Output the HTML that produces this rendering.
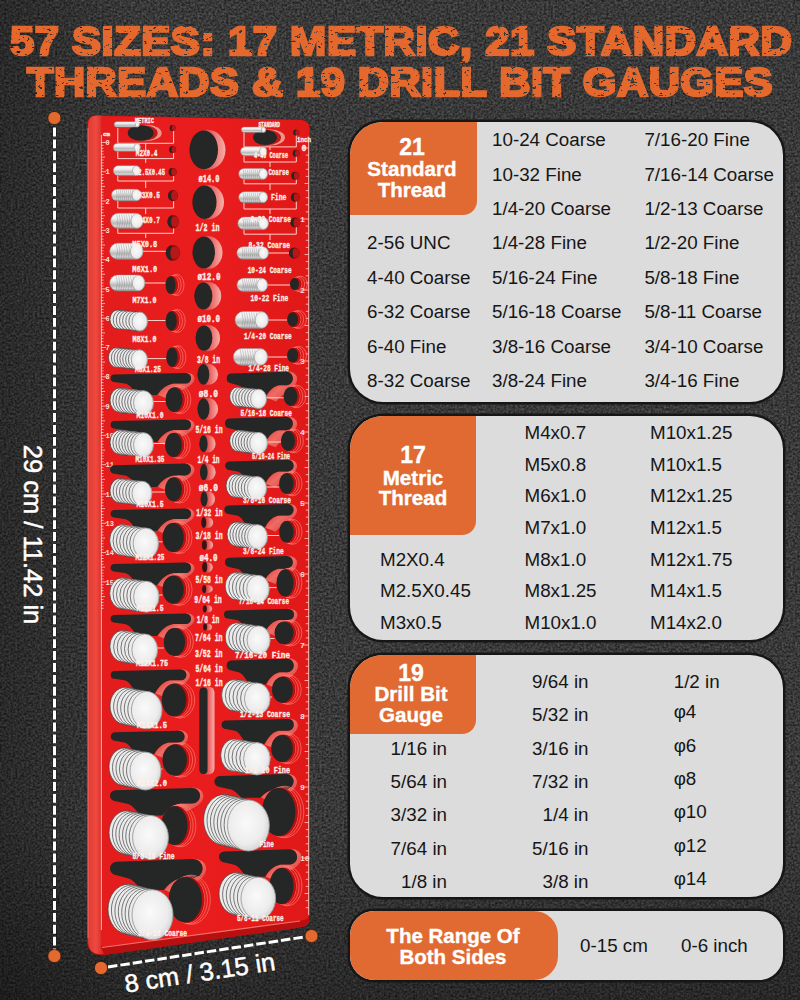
<!DOCTYPE html>
<html><head><meta charset="utf-8"><style>
html,body{margin:0;padding:0;}
body{width:800px;height:1000px;position:relative;overflow:hidden;background:#343434;font-family:"Liberation Sans",sans-serif;}
.abs{position:absolute;}
.title{position:absolute;filter:url(#distress);white-space:nowrap;color:#e5692d;font-weight:bold;font-size:41px;line-height:41px;-webkit-text-stroke:2.6px #e5692d;letter-spacing:0.5px;transform-origin:0 0;}
.panel{position:absolute;left:350px;width:433px;background:#dcdcdc;border-radius:33px;box-shadow:0 0 0 2.5px #161616;overflow:hidden;}
.lab{position:absolute;left:0;top:0;background:#e06a32;}
.t{position:absolute;white-space:nowrap;}
</style></head>
<body>
<svg class="abs" style="left:0;top:0" width="800" height="1000">
  <filter id="noise" x="0" y="0" width="100%" height="100%" color-interpolation-filters="sRGB">
    <feTurbulence type="fractalNoise" baseFrequency="0.45" numOctaves="2" seed="11"/>
    <feColorMatrix type="matrix" values="1.4 0 0 0 -0.2  1.4 0 0 0 -0.2  1.4 0 0 0 -0.2  0 0 0 0 0.24"/>
  </filter>
  <filter id="distress" x="-5%" y="-20%" width="110%" height="140%">
    <feTurbulence type="fractalNoise" baseFrequency="0.2 0.4" numOctaves="3" seed="5" result="n"/>
    <feColorMatrix in="n" type="matrix" values="0 0 0 0 0  0 0 0 0 0  0 0 0 0 0  0 0 0 -22 15.8" result="m"/>
    <feComposite in="SourceGraphic" in2="m" operator="in"/>
  </filter>
  <rect width="800" height="1000" fill="#232323"/>
  <rect width="800" height="1000" filter="url(#noise)"/>
  <linearGradient id="vigL" x1="0" y1="0" x2="1" y2="0">
    <stop offset="0" stop-color="#000" stop-opacity="0.28"/>
    <stop offset="1" stop-color="#000" stop-opacity="0"/>
  </linearGradient>
  <radialGradient id="vigB" cx="800" cy="1000" r="260" gradientUnits="userSpaceOnUse">
    <stop offset="0" stop-color="#000" stop-opacity="0.22"/>
    <stop offset="1" stop-color="#000" stop-opacity="0"/>
  </radialGradient>
  <rect width="140" height="1000" fill="url(#vigL)"/>
  <linearGradient id="vigBot" x1="0" y1="0" x2="0" y2="1">
    <stop offset="0" stop-color="#000" stop-opacity="0"/>
    <stop offset="1" stop-color="#000" stop-opacity="0.3"/>
  </linearGradient>
  <rect y="820" width="800" height="180" fill="url(#vigBot)"/>
</svg>
<div class="title" style="top:21px;left:10px;transform:scaleX(1.061);">57 SIZES: 17 METRIC, 21 STANDARD</div>
<div class="title" style="top:62px;left:27px;transform:scaleX(1.053);">THREADS &amp; 19 DRILL BIT GAUGES</div>
<div class="panel" style="top:122px;height:280px;"><div class="lab" style="width:127px;height:93px;border-radius:30px 0 14px 0;"></div></div>
<div class="panel" style="top:416px;height:224px;"><div class="lab" style="width:126px;height:119px;border-radius:30px 0 14px 0;"></div></div>
<div class="panel" style="top:655px;height:242px;"><div class="lab" style="width:126px;height:79px;border-radius:30px 0 14px 0;"></div></div>
<div class="panel" style="top:911px;height:69px;border-radius:24px;"><div class="lab" style="width:208px;height:69px;border-radius:24px;"></div></div>
<div class="t" style="left:492.0px;top:131.1px;font-size:18.8px;line-height:18.8px;color:#161616;">10-24 Coarse</div>
<div class="t" style="left:644.4px;top:131.1px;font-size:18.8px;line-height:18.8px;color:#161616;">7/16-20 Fine</div>
<div class="t" style="left:492.0px;top:165.5px;font-size:18.8px;line-height:18.8px;color:#161616;">10-32 Fine</div>
<div class="t" style="left:644.4px;top:165.5px;font-size:18.8px;line-height:18.8px;color:#161616;">7/16-14 Coarse</div>
<div class="t" style="left:492.0px;top:200.0px;font-size:18.8px;line-height:18.8px;color:#161616;">1/4-20 Coarse</div>
<div class="t" style="left:644.4px;top:200.0px;font-size:18.8px;line-height:18.8px;color:#161616;">1/2-13 Coarse</div>
<div class="t" style="left:492.0px;top:234.4px;font-size:18.8px;line-height:18.8px;color:#161616;">1/4-28 Fine</div>
<div class="t" style="left:644.4px;top:234.4px;font-size:18.8px;line-height:18.8px;color:#161616;">1/2-20 Fine</div>
<div class="t" style="left:367.0px;top:234.4px;font-size:18.8px;line-height:18.8px;color:#161616;">2-56 UNC</div>
<div class="t" style="left:492.0px;top:268.8px;font-size:18.8px;line-height:18.8px;color:#161616;">5/16-24 Fine</div>
<div class="t" style="left:644.4px;top:268.8px;font-size:18.8px;line-height:18.8px;color:#161616;">5/8-18 Fine</div>
<div class="t" style="left:367.0px;top:268.8px;font-size:18.8px;line-height:18.8px;color:#161616;">4-40 Coarse</div>
<div class="t" style="left:492.0px;top:303.3px;font-size:18.8px;line-height:18.8px;color:#161616;">5/16-18 Coarse</div>
<div class="t" style="left:644.4px;top:303.3px;font-size:18.8px;line-height:18.8px;color:#161616;">5/8-11 Coarse</div>
<div class="t" style="left:367.0px;top:303.3px;font-size:18.8px;line-height:18.8px;color:#161616;">6-32 Coarse</div>
<div class="t" style="left:492.0px;top:337.7px;font-size:18.8px;line-height:18.8px;color:#161616;">3/8-16 Coarse</div>
<div class="t" style="left:644.4px;top:337.7px;font-size:18.8px;line-height:18.8px;color:#161616;">3/4-10 Coarse</div>
<div class="t" style="left:367.0px;top:337.7px;font-size:18.8px;line-height:18.8px;color:#161616;">6-40 Fine</div>
<div class="t" style="left:492.0px;top:372.2px;font-size:18.8px;line-height:18.8px;color:#161616;">3/8-24 Fine</div>
<div class="t" style="left:644.4px;top:372.2px;font-size:18.8px;line-height:18.8px;color:#161616;">3/4-16 Fine</div>
<div class="t" style="left:367.0px;top:372.2px;font-size:18.8px;line-height:18.8px;color:#161616;">8-32 Coarse</div>
<div class="t" style="left:262.0px;width:300px;text-align:center;top:135.5px;font-size:23px;line-height:23px;font-weight:bold;color:#fff;-webkit-text-stroke:0.35px #fff;">21</div>
<div class="t" style="left:262.0px;width:300px;text-align:center;top:158.6px;font-size:20.6px;line-height:20.6px;font-weight:bold;color:#fff;-webkit-text-stroke:0.35px #fff;">Standard</div>
<div class="t" style="left:262.0px;width:300px;text-align:center;top:179.6px;font-size:20.6px;line-height:20.6px;font-weight:bold;color:#fff;-webkit-text-stroke:0.35px #fff;">Thread</div>
<div class="t" style="left:524.5px;top:424.3px;font-size:18.8px;line-height:18.8px;color:#161616;">M4x0.7</div>
<div class="t" style="left:650.0px;top:424.3px;font-size:18.8px;line-height:18.8px;color:#161616;">M10x1.25</div>
<div class="t" style="left:524.5px;top:455.8px;font-size:18.8px;line-height:18.8px;color:#161616;">M5x0.8</div>
<div class="t" style="left:650.0px;top:455.8px;font-size:18.8px;line-height:18.8px;color:#161616;">M10x1.5</div>
<div class="t" style="left:524.5px;top:487.4px;font-size:18.8px;line-height:18.8px;color:#161616;">M6x1.0</div>
<div class="t" style="left:650.0px;top:487.4px;font-size:18.8px;line-height:18.8px;color:#161616;">M12x1.25</div>
<div class="t" style="left:524.5px;top:518.9px;font-size:18.8px;line-height:18.8px;color:#161616;">M7x1.0</div>
<div class="t" style="left:650.0px;top:518.9px;font-size:18.8px;line-height:18.8px;color:#161616;">M12x1.5</div>
<div class="t" style="left:524.5px;top:550.5px;font-size:18.8px;line-height:18.8px;color:#161616;">M8x1.0</div>
<div class="t" style="left:650.0px;top:550.5px;font-size:18.8px;line-height:18.8px;color:#161616;">M12x1.75</div>
<div class="t" style="left:380.0px;top:550.5px;font-size:18.8px;line-height:18.8px;color:#161616;">M2X0.4</div>
<div class="t" style="left:524.5px;top:582.0px;font-size:18.8px;line-height:18.8px;color:#161616;">M8x1.25</div>
<div class="t" style="left:650.0px;top:582.0px;font-size:18.8px;line-height:18.8px;color:#161616;">M14x1.5</div>
<div class="t" style="left:380.0px;top:582.0px;font-size:18.8px;line-height:18.8px;color:#161616;">M2.5X0.45</div>
<div class="t" style="left:524.5px;top:613.6px;font-size:18.8px;line-height:18.8px;color:#161616;">M10x1.0</div>
<div class="t" style="left:650.0px;top:613.6px;font-size:18.8px;line-height:18.8px;color:#161616;">M14x2.0</div>
<div class="t" style="left:380.0px;top:613.6px;font-size:18.8px;line-height:18.8px;color:#161616;">M3x0.5</div>
<div class="t" style="left:263.0px;width:300px;text-align:center;top:444.2px;font-size:23px;line-height:23px;font-weight:bold;color:#fff;-webkit-text-stroke:0.35px #fff;">17</div>
<div class="t" style="left:263.0px;width:300px;text-align:center;top:468.2px;font-size:20.6px;line-height:20.6px;font-weight:bold;color:#fff;-webkit-text-stroke:0.35px #fff;">Metric</div>
<div class="t" style="left:263.0px;width:300px;text-align:center;top:488.4px;font-size:20.6px;line-height:20.6px;font-weight:bold;color:#fff;-webkit-text-stroke:0.35px #fff;">Thread</div>
<div class="t" style="right:211.5px;top:672.8px;font-size:18.8px;line-height:18.8px;color:#161616;">9/64 in</div>
<div class="t" style="left:673.7px;top:672.8px;font-size:18.8px;line-height:18.8px;color:#161616;">1/2 in</div>
<div class="t" style="right:211.5px;top:706.2px;font-size:18.8px;line-height:18.8px;color:#161616;">5/32 in</div>
<div class="t" style="left:673.7px;top:703.2px;font-size:18.8px;line-height:18.8px;color:#161616;">&#966;4</div>
<div class="t" style="right:211.5px;top:739.6px;font-size:18.8px;line-height:18.8px;color:#161616;">3/16 in</div>
<div class="t" style="left:673.7px;top:736.6px;font-size:18.8px;line-height:18.8px;color:#161616;">&#966;6</div>
<div class="t" style="right:353.0px;top:739.6px;font-size:18.8px;line-height:18.8px;color:#161616;">1/16 in</div>
<div class="t" style="right:211.5px;top:773.0px;font-size:18.8px;line-height:18.8px;color:#161616;">7/32 in</div>
<div class="t" style="left:673.7px;top:770.0px;font-size:18.8px;line-height:18.8px;color:#161616;">&#966;8</div>
<div class="t" style="right:353.0px;top:773.0px;font-size:18.8px;line-height:18.8px;color:#161616;">5/64 in</div>
<div class="t" style="right:211.5px;top:806.4px;font-size:18.8px;line-height:18.8px;color:#161616;">1/4 in</div>
<div class="t" style="left:673.7px;top:803.4px;font-size:18.8px;line-height:18.8px;color:#161616;">&#966;10</div>
<div class="t" style="right:353.0px;top:806.4px;font-size:18.8px;line-height:18.8px;color:#161616;">3/32 in</div>
<div class="t" style="right:211.5px;top:839.8px;font-size:18.8px;line-height:18.8px;color:#161616;">5/16 in</div>
<div class="t" style="left:673.7px;top:836.8px;font-size:18.8px;line-height:18.8px;color:#161616;">&#966;12</div>
<div class="t" style="right:353.0px;top:839.8px;font-size:18.8px;line-height:18.8px;color:#161616;">7/64 in</div>
<div class="t" style="right:211.5px;top:873.2px;font-size:18.8px;line-height:18.8px;color:#161616;">3/8 in</div>
<div class="t" style="left:673.7px;top:870.2px;font-size:18.8px;line-height:18.8px;color:#161616;">&#966;14</div>
<div class="t" style="right:353.0px;top:873.2px;font-size:18.8px;line-height:18.8px;color:#161616;">1/8 in</div>
<div class="t" style="left:261.0px;width:300px;text-align:center;top:661.5px;font-size:23px;line-height:23px;font-weight:bold;color:#fff;-webkit-text-stroke:0.35px #fff;">19</div>
<div class="t" style="left:261.0px;width:300px;text-align:center;top:684.2px;font-size:20.6px;line-height:20.6px;font-weight:bold;color:#fff;-webkit-text-stroke:0.35px #fff;">Drill Bit</div>
<div class="t" style="left:261.0px;width:300px;text-align:center;top:704.6px;font-size:20.6px;line-height:20.6px;font-weight:bold;color:#fff;-webkit-text-stroke:0.35px #fff;">Gauge</div>
<div class="t" style="left:580.0px;top:936.6px;font-size:18.8px;line-height:18.8px;color:#161616;">0-15 cm</div>
<div class="t" style="left:681.0px;top:936.6px;font-size:18.8px;line-height:18.8px;color:#161616;">0-6 inch</div>
<div class="t" style="left:303.0px;width:300px;text-align:center;top:926.1px;font-size:20.5px;line-height:20.5px;font-weight:bold;color:#fff;-webkit-text-stroke:0.35px #fff;">The Range Of</div>
<div class="t" style="left:303.0px;width:300px;text-align:center;top:946.6px;font-size:20.5px;line-height:20.5px;font-weight:bold;color:#fff;-webkit-text-stroke:0.35px #fff;">Both Sides</div>
<svg class="abs" style="left:0;top:0" width="800" height="1000">
<defs>
<linearGradient id="rod" x1="0" y1="0" x2="0" y2="1">
<stop offset="0" stop-color="#fdfdfd"/><stop offset="0.35" stop-color="#eeeeee"/><stop offset="0.65" stop-color="#b9b9b9"/><stop offset="0.85" stop-color="#d8d8d8"/><stop offset="1" stop-color="#8c8c8c"/>
</linearGradient>
<radialGradient id="face" cx="0.45" cy="0.45" r="0.6">
<stop offset="0" stop-color="#fafafa"/><stop offset="0.7" stop-color="#ececec"/><stop offset="1" stop-color="#d0d0d0"/>
</radialGradient>
<linearGradient id="cres" x1="0" y1="0" x2="1" y2="0">
<stop offset="0" stop-color="#a01010"/><stop offset="0.6" stop-color="#e86060"/><stop offset="1" stop-color="#f7b0a8"/>
</linearGradient>
<linearGradient id="lip" x1="0" y1="0" x2="1" y2="1">
<stop offset="0" stop-color="#c81818"/><stop offset="0.5" stop-color="#ee6c64"/><stop offset="1" stop-color="#d83232"/>
</linearGradient>
<linearGradient id="bevel" x1="0" y1="0" x2="1" y2="0">
<stop offset="0" stop-color="#e03a34"/><stop offset="0.5" stop-color="#ee4a40"/><stop offset="1" stop-color="#d42222"/>
</linearGradient>
<linearGradient id="redg" x1="0" y1="0" x2="1" y2="0">
<stop offset="0" stop-color="#e41c1c"/><stop offset="0.5" stop-color="#ea1d1d"/><stop offset="1" stop-color="#e01818"/>
</linearGradient>
</defs>
<path d="M97,115 L301,120 Q309.5,120.5 309.5,128.5 L309.5,919 Q309.5,926.5 301,927.5 L106,955 Q87,957 87,940 L87,125 Q87,115 97,115 Z" fill="#b81010"/>
<path d="M97,115.5 L104,116 L101,123 L101,947 L104,954 Q88,956 88,940 L88,125 Q88,115.5 97,115.5 Z" fill="url(#bevel)"/>
<path d="M104,116 L301,120 Q309.5,120.5 309.5,128.5 L309.5,914 Q309.5,919.5 301,920.5 L104,947 Q101,947.5 101,944 L101,120 Q101,116 104,116 Z" fill="url(#redg)"/>
<path d="M102,947.5 L300,921" stroke="#ff8a80" stroke-width="1.2" opacity="0.8"/>
<path d="M88,128 L88,938" stroke="#ff9088" stroke-width="1" opacity="0.6"/>
<line x1="101" y1="142.4" x2="106.0" y2="142.4" stroke="#ffd8d0" stroke-width="0.8"/>
<line x1="101" y1="145.3" x2="103.5" y2="145.3" stroke="#ffd8d0" stroke-width="0.8"/>
<line x1="101" y1="148.3" x2="103.5" y2="148.3" stroke="#ffd8d0" stroke-width="0.8"/>
<line x1="101" y1="151.2" x2="103.5" y2="151.2" stroke="#ffd8d0" stroke-width="0.8"/>
<line x1="101" y1="154.1" x2="103.5" y2="154.1" stroke="#ffd8d0" stroke-width="0.8"/>
<line x1="101" y1="157.1" x2="105.0" y2="157.1" stroke="#ffd8d0" stroke-width="0.8"/>
<line x1="101" y1="160.0" x2="103.5" y2="160.0" stroke="#ffd8d0" stroke-width="0.8"/>
<line x1="101" y1="162.9" x2="103.5" y2="162.9" stroke="#ffd8d0" stroke-width="0.8"/>
<line x1="101" y1="165.8" x2="103.5" y2="165.8" stroke="#ffd8d0" stroke-width="0.8"/>
<line x1="101" y1="168.8" x2="103.5" y2="168.8" stroke="#ffd8d0" stroke-width="0.8"/>
<line x1="101" y1="171.7" x2="106.0" y2="171.7" stroke="#ffd8d0" stroke-width="0.8"/>
<line x1="101" y1="174.6" x2="103.5" y2="174.6" stroke="#ffd8d0" stroke-width="0.8"/>
<line x1="101" y1="177.6" x2="103.5" y2="177.6" stroke="#ffd8d0" stroke-width="0.8"/>
<line x1="101" y1="180.5" x2="103.5" y2="180.5" stroke="#ffd8d0" stroke-width="0.8"/>
<line x1="101" y1="183.4" x2="103.5" y2="183.4" stroke="#ffd8d0" stroke-width="0.8"/>
<line x1="101" y1="186.4" x2="105.0" y2="186.4" stroke="#ffd8d0" stroke-width="0.8"/>
<line x1="101" y1="189.3" x2="103.5" y2="189.3" stroke="#ffd8d0" stroke-width="0.8"/>
<line x1="101" y1="192.2" x2="103.5" y2="192.2" stroke="#ffd8d0" stroke-width="0.8"/>
<line x1="101" y1="195.1" x2="103.5" y2="195.1" stroke="#ffd8d0" stroke-width="0.8"/>
<line x1="101" y1="198.1" x2="103.5" y2="198.1" stroke="#ffd8d0" stroke-width="0.8"/>
<line x1="101" y1="201.0" x2="106.0" y2="201.0" stroke="#ffd8d0" stroke-width="0.8"/>
<line x1="101" y1="203.9" x2="103.5" y2="203.9" stroke="#ffd8d0" stroke-width="0.8"/>
<line x1="101" y1="206.9" x2="103.5" y2="206.9" stroke="#ffd8d0" stroke-width="0.8"/>
<line x1="101" y1="209.8" x2="103.5" y2="209.8" stroke="#ffd8d0" stroke-width="0.8"/>
<line x1="101" y1="212.7" x2="103.5" y2="212.7" stroke="#ffd8d0" stroke-width="0.8"/>
<line x1="101" y1="215.7" x2="105.0" y2="215.7" stroke="#ffd8d0" stroke-width="0.8"/>
<line x1="101" y1="218.6" x2="103.5" y2="218.6" stroke="#ffd8d0" stroke-width="0.8"/>
<line x1="101" y1="221.5" x2="103.5" y2="221.5" stroke="#ffd8d0" stroke-width="0.8"/>
<line x1="101" y1="224.4" x2="103.5" y2="224.4" stroke="#ffd8d0" stroke-width="0.8"/>
<line x1="101" y1="227.4" x2="103.5" y2="227.4" stroke="#ffd8d0" stroke-width="0.8"/>
<line x1="101" y1="230.3" x2="106.0" y2="230.3" stroke="#ffd8d0" stroke-width="0.8"/>
<line x1="101" y1="233.2" x2="103.5" y2="233.2" stroke="#ffd8d0" stroke-width="0.8"/>
<line x1="101" y1="236.2" x2="103.5" y2="236.2" stroke="#ffd8d0" stroke-width="0.8"/>
<line x1="101" y1="239.1" x2="103.5" y2="239.1" stroke="#ffd8d0" stroke-width="0.8"/>
<line x1="101" y1="242.0" x2="103.5" y2="242.0" stroke="#ffd8d0" stroke-width="0.8"/>
<line x1="101" y1="245.0" x2="105.0" y2="245.0" stroke="#ffd8d0" stroke-width="0.8"/>
<line x1="101" y1="247.9" x2="103.5" y2="247.9" stroke="#ffd8d0" stroke-width="0.8"/>
<line x1="101" y1="250.8" x2="103.5" y2="250.8" stroke="#ffd8d0" stroke-width="0.8"/>
<line x1="101" y1="253.7" x2="103.5" y2="253.7" stroke="#ffd8d0" stroke-width="0.8"/>
<line x1="101" y1="256.7" x2="103.5" y2="256.7" stroke="#ffd8d0" stroke-width="0.8"/>
<line x1="101" y1="259.6" x2="106.0" y2="259.6" stroke="#ffd8d0" stroke-width="0.8"/>
<line x1="101" y1="262.5" x2="103.5" y2="262.5" stroke="#ffd8d0" stroke-width="0.8"/>
<line x1="101" y1="265.5" x2="103.5" y2="265.5" stroke="#ffd8d0" stroke-width="0.8"/>
<line x1="101" y1="268.4" x2="103.5" y2="268.4" stroke="#ffd8d0" stroke-width="0.8"/>
<line x1="101" y1="271.3" x2="103.5" y2="271.3" stroke="#ffd8d0" stroke-width="0.8"/>
<line x1="101" y1="274.2" x2="105.0" y2="274.2" stroke="#ffd8d0" stroke-width="0.8"/>
<line x1="101" y1="277.2" x2="103.5" y2="277.2" stroke="#ffd8d0" stroke-width="0.8"/>
<line x1="101" y1="280.1" x2="103.5" y2="280.1" stroke="#ffd8d0" stroke-width="0.8"/>
<line x1="101" y1="283.0" x2="103.5" y2="283.0" stroke="#ffd8d0" stroke-width="0.8"/>
<line x1="101" y1="286.0" x2="103.5" y2="286.0" stroke="#ffd8d0" stroke-width="0.8"/>
<line x1="101" y1="288.9" x2="106.0" y2="288.9" stroke="#ffd8d0" stroke-width="0.8"/>
<line x1="101" y1="291.8" x2="103.5" y2="291.8" stroke="#ffd8d0" stroke-width="0.8"/>
<line x1="101" y1="294.8" x2="103.5" y2="294.8" stroke="#ffd8d0" stroke-width="0.8"/>
<line x1="101" y1="297.7" x2="103.5" y2="297.7" stroke="#ffd8d0" stroke-width="0.8"/>
<line x1="101" y1="300.6" x2="103.5" y2="300.6" stroke="#ffd8d0" stroke-width="0.8"/>
<line x1="101" y1="303.6" x2="105.0" y2="303.6" stroke="#ffd8d0" stroke-width="0.8"/>
<line x1="101" y1="306.5" x2="103.5" y2="306.5" stroke="#ffd8d0" stroke-width="0.8"/>
<line x1="101" y1="309.4" x2="103.5" y2="309.4" stroke="#ffd8d0" stroke-width="0.8"/>
<line x1="101" y1="312.3" x2="103.5" y2="312.3" stroke="#ffd8d0" stroke-width="0.8"/>
<line x1="101" y1="315.3" x2="103.5" y2="315.3" stroke="#ffd8d0" stroke-width="0.8"/>
<line x1="101" y1="318.2" x2="106.0" y2="318.2" stroke="#ffd8d0" stroke-width="0.8"/>
<line x1="101" y1="321.1" x2="103.5" y2="321.1" stroke="#ffd8d0" stroke-width="0.8"/>
<line x1="101" y1="324.1" x2="103.5" y2="324.1" stroke="#ffd8d0" stroke-width="0.8"/>
<line x1="101" y1="327.0" x2="103.5" y2="327.0" stroke="#ffd8d0" stroke-width="0.8"/>
<line x1="101" y1="329.9" x2="103.5" y2="329.9" stroke="#ffd8d0" stroke-width="0.8"/>
<line x1="101" y1="332.9" x2="105.0" y2="332.9" stroke="#ffd8d0" stroke-width="0.8"/>
<line x1="101" y1="335.8" x2="103.5" y2="335.8" stroke="#ffd8d0" stroke-width="0.8"/>
<line x1="101" y1="338.7" x2="103.5" y2="338.7" stroke="#ffd8d0" stroke-width="0.8"/>
<line x1="101" y1="341.6" x2="103.5" y2="341.6" stroke="#ffd8d0" stroke-width="0.8"/>
<line x1="101" y1="344.6" x2="103.5" y2="344.6" stroke="#ffd8d0" stroke-width="0.8"/>
<line x1="101" y1="347.5" x2="106.0" y2="347.5" stroke="#ffd8d0" stroke-width="0.8"/>
<line x1="101" y1="350.4" x2="103.5" y2="350.4" stroke="#ffd8d0" stroke-width="0.8"/>
<line x1="101" y1="353.4" x2="103.5" y2="353.4" stroke="#ffd8d0" stroke-width="0.8"/>
<line x1="101" y1="356.3" x2="103.5" y2="356.3" stroke="#ffd8d0" stroke-width="0.8"/>
<line x1="101" y1="359.2" x2="103.5" y2="359.2" stroke="#ffd8d0" stroke-width="0.8"/>
<line x1="101" y1="362.1" x2="105.0" y2="362.1" stroke="#ffd8d0" stroke-width="0.8"/>
<line x1="101" y1="365.1" x2="103.5" y2="365.1" stroke="#ffd8d0" stroke-width="0.8"/>
<line x1="101" y1="368.0" x2="103.5" y2="368.0" stroke="#ffd8d0" stroke-width="0.8"/>
<line x1="101" y1="370.9" x2="103.5" y2="370.9" stroke="#ffd8d0" stroke-width="0.8"/>
<line x1="101" y1="373.9" x2="103.5" y2="373.9" stroke="#ffd8d0" stroke-width="0.8"/>
<line x1="101" y1="376.8" x2="106.0" y2="376.8" stroke="#ffd8d0" stroke-width="0.8"/>
<line x1="101" y1="379.7" x2="103.5" y2="379.7" stroke="#ffd8d0" stroke-width="0.8"/>
<line x1="101" y1="382.7" x2="103.5" y2="382.7" stroke="#ffd8d0" stroke-width="0.8"/>
<line x1="101" y1="385.6" x2="103.5" y2="385.6" stroke="#ffd8d0" stroke-width="0.8"/>
<line x1="101" y1="388.5" x2="103.5" y2="388.5" stroke="#ffd8d0" stroke-width="0.8"/>
<line x1="101" y1="391.5" x2="105.0" y2="391.5" stroke="#ffd8d0" stroke-width="0.8"/>
<line x1="101" y1="394.4" x2="103.5" y2="394.4" stroke="#ffd8d0" stroke-width="0.8"/>
<line x1="101" y1="397.3" x2="103.5" y2="397.3" stroke="#ffd8d0" stroke-width="0.8"/>
<line x1="101" y1="400.2" x2="103.5" y2="400.2" stroke="#ffd8d0" stroke-width="0.8"/>
<line x1="101" y1="403.2" x2="103.5" y2="403.2" stroke="#ffd8d0" stroke-width="0.8"/>
<line x1="101" y1="406.1" x2="106.0" y2="406.1" stroke="#ffd8d0" stroke-width="0.8"/>
<line x1="101" y1="409.0" x2="103.5" y2="409.0" stroke="#ffd8d0" stroke-width="0.8"/>
<line x1="101" y1="412.0" x2="103.5" y2="412.0" stroke="#ffd8d0" stroke-width="0.8"/>
<line x1="101" y1="414.9" x2="103.5" y2="414.9" stroke="#ffd8d0" stroke-width="0.8"/>
<line x1="101" y1="417.8" x2="103.5" y2="417.8" stroke="#ffd8d0" stroke-width="0.8"/>
<line x1="101" y1="420.8" x2="105.0" y2="420.8" stroke="#ffd8d0" stroke-width="0.8"/>
<line x1="101" y1="423.7" x2="103.5" y2="423.7" stroke="#ffd8d0" stroke-width="0.8"/>
<line x1="101" y1="426.6" x2="103.5" y2="426.6" stroke="#ffd8d0" stroke-width="0.8"/>
<line x1="101" y1="429.5" x2="103.5" y2="429.5" stroke="#ffd8d0" stroke-width="0.8"/>
<line x1="101" y1="432.5" x2="103.5" y2="432.5" stroke="#ffd8d0" stroke-width="0.8"/>
<line x1="101" y1="435.4" x2="106.0" y2="435.4" stroke="#ffd8d0" stroke-width="0.8"/>
<line x1="101" y1="438.3" x2="103.5" y2="438.3" stroke="#ffd8d0" stroke-width="0.8"/>
<line x1="101" y1="441.3" x2="103.5" y2="441.3" stroke="#ffd8d0" stroke-width="0.8"/>
<line x1="101" y1="444.2" x2="103.5" y2="444.2" stroke="#ffd8d0" stroke-width="0.8"/>
<line x1="101" y1="447.1" x2="103.5" y2="447.1" stroke="#ffd8d0" stroke-width="0.8"/>
<line x1="101" y1="450.1" x2="105.0" y2="450.1" stroke="#ffd8d0" stroke-width="0.8"/>
<line x1="101" y1="453.0" x2="103.5" y2="453.0" stroke="#ffd8d0" stroke-width="0.8"/>
<line x1="101" y1="455.9" x2="103.5" y2="455.9" stroke="#ffd8d0" stroke-width="0.8"/>
<line x1="101" y1="458.8" x2="103.5" y2="458.8" stroke="#ffd8d0" stroke-width="0.8"/>
<line x1="101" y1="461.8" x2="103.5" y2="461.8" stroke="#ffd8d0" stroke-width="0.8"/>
<line x1="101" y1="464.7" x2="106.0" y2="464.7" stroke="#ffd8d0" stroke-width="0.8"/>
<line x1="101" y1="467.6" x2="103.5" y2="467.6" stroke="#ffd8d0" stroke-width="0.8"/>
<line x1="101" y1="470.6" x2="103.5" y2="470.6" stroke="#ffd8d0" stroke-width="0.8"/>
<line x1="101" y1="473.5" x2="103.5" y2="473.5" stroke="#ffd8d0" stroke-width="0.8"/>
<line x1="101" y1="476.4" x2="103.5" y2="476.4" stroke="#ffd8d0" stroke-width="0.8"/>
<line x1="101" y1="479.4" x2="105.0" y2="479.4" stroke="#ffd8d0" stroke-width="0.8"/>
<line x1="101" y1="482.3" x2="103.5" y2="482.3" stroke="#ffd8d0" stroke-width="0.8"/>
<line x1="101" y1="485.2" x2="103.5" y2="485.2" stroke="#ffd8d0" stroke-width="0.8"/>
<line x1="101" y1="488.1" x2="103.5" y2="488.1" stroke="#ffd8d0" stroke-width="0.8"/>
<line x1="101" y1="491.1" x2="103.5" y2="491.1" stroke="#ffd8d0" stroke-width="0.8"/>
<line x1="101" y1="494.0" x2="106.0" y2="494.0" stroke="#ffd8d0" stroke-width="0.8"/>
<line x1="101" y1="496.9" x2="103.5" y2="496.9" stroke="#ffd8d0" stroke-width="0.8"/>
<line x1="101" y1="499.9" x2="103.5" y2="499.9" stroke="#ffd8d0" stroke-width="0.8"/>
<line x1="101" y1="502.8" x2="103.5" y2="502.8" stroke="#ffd8d0" stroke-width="0.8"/>
<line x1="101" y1="505.7" x2="103.5" y2="505.7" stroke="#ffd8d0" stroke-width="0.8"/>
<line x1="101" y1="508.6" x2="105.0" y2="508.6" stroke="#ffd8d0" stroke-width="0.8"/>
<line x1="101" y1="511.6" x2="103.5" y2="511.6" stroke="#ffd8d0" stroke-width="0.8"/>
<line x1="101" y1="514.5" x2="103.5" y2="514.5" stroke="#ffd8d0" stroke-width="0.8"/>
<line x1="101" y1="517.4" x2="103.5" y2="517.4" stroke="#ffd8d0" stroke-width="0.8"/>
<line x1="101" y1="520.4" x2="103.5" y2="520.4" stroke="#ffd8d0" stroke-width="0.8"/>
<line x1="101" y1="523.3" x2="106.0" y2="523.3" stroke="#ffd8d0" stroke-width="0.8"/>
<line x1="101" y1="526.2" x2="103.5" y2="526.2" stroke="#ffd8d0" stroke-width="0.8"/>
<line x1="101" y1="529.2" x2="103.5" y2="529.2" stroke="#ffd8d0" stroke-width="0.8"/>
<line x1="101" y1="532.1" x2="103.5" y2="532.1" stroke="#ffd8d0" stroke-width="0.8"/>
<line x1="101" y1="535.0" x2="103.5" y2="535.0" stroke="#ffd8d0" stroke-width="0.8"/>
<line x1="101" y1="538.0" x2="105.0" y2="538.0" stroke="#ffd8d0" stroke-width="0.8"/>
<line x1="101" y1="540.9" x2="103.5" y2="540.9" stroke="#ffd8d0" stroke-width="0.8"/>
<line x1="101" y1="543.8" x2="103.5" y2="543.8" stroke="#ffd8d0" stroke-width="0.8"/>
<line x1="101" y1="546.7" x2="103.5" y2="546.7" stroke="#ffd8d0" stroke-width="0.8"/>
<line x1="101" y1="549.7" x2="103.5" y2="549.7" stroke="#ffd8d0" stroke-width="0.8"/>
<line x1="101" y1="552.6" x2="106.0" y2="552.6" stroke="#ffd8d0" stroke-width="0.8"/>
<line x1="101" y1="555.5" x2="103.5" y2="555.5" stroke="#ffd8d0" stroke-width="0.8"/>
<line x1="101" y1="558.5" x2="103.5" y2="558.5" stroke="#ffd8d0" stroke-width="0.8"/>
<line x1="101" y1="561.4" x2="103.5" y2="561.4" stroke="#ffd8d0" stroke-width="0.8"/>
<line x1="101" y1="564.3" x2="103.5" y2="564.3" stroke="#ffd8d0" stroke-width="0.8"/>
<line x1="101" y1="567.2" x2="105.0" y2="567.2" stroke="#ffd8d0" stroke-width="0.8"/>
<line x1="101" y1="570.2" x2="103.5" y2="570.2" stroke="#ffd8d0" stroke-width="0.8"/>
<line x1="101" y1="573.1" x2="103.5" y2="573.1" stroke="#ffd8d0" stroke-width="0.8"/>
<line x1="101" y1="576.0" x2="103.5" y2="576.0" stroke="#ffd8d0" stroke-width="0.8"/>
<line x1="101" y1="579.0" x2="103.5" y2="579.0" stroke="#ffd8d0" stroke-width="0.8"/>
<line x1="101" y1="581.9" x2="106.0" y2="581.9" stroke="#ffd8d0" stroke-width="0.8"/>
<line x1="101" y1="584.8" x2="103.5" y2="584.8" stroke="#ffd8d0" stroke-width="0.8"/>
<line x1="101" y1="587.8" x2="103.5" y2="587.8" stroke="#ffd8d0" stroke-width="0.8"/>
<line x1="101" y1="590.7" x2="103.5" y2="590.7" stroke="#ffd8d0" stroke-width="0.8"/>
<line x1="101" y1="593.6" x2="103.5" y2="593.6" stroke="#ffd8d0" stroke-width="0.8"/>
<line x1="101" y1="596.6" x2="105.0" y2="596.6" stroke="#ffd8d0" stroke-width="0.8"/>
<line x1="101" y1="599.5" x2="103.5" y2="599.5" stroke="#ffd8d0" stroke-width="0.8"/>
<line x1="101" y1="602.4" x2="103.5" y2="602.4" stroke="#ffd8d0" stroke-width="0.8"/>
<line x1="101" y1="605.3" x2="103.5" y2="605.3" stroke="#ffd8d0" stroke-width="0.8"/>
<line x1="101" y1="608.3" x2="103.5" y2="608.3" stroke="#ffd8d0" stroke-width="0.8"/>
<line x1="101.4" y1="135" x2="101.4" y2="930" stroke="#ffd8d0" stroke-width="0.8"/>
<text x="105.5" y="145.0" font-family="Liberation Mono" font-weight="bold" font-size="7" fill="#ffe0d8">0</text>
<text x="105.5" y="174.3" font-family="Liberation Mono" font-weight="bold" font-size="7" fill="#ffe0d8">1</text>
<text x="105.5" y="203.6" font-family="Liberation Mono" font-weight="bold" font-size="7" fill="#ffe0d8">2</text>
<text x="105.5" y="232.9" font-family="Liberation Mono" font-weight="bold" font-size="7" fill="#ffe0d8">3</text>
<text x="105.5" y="262.2" font-family="Liberation Mono" font-weight="bold" font-size="7" fill="#ffe0d8">4</text>
<text x="105.5" y="291.5" font-family="Liberation Mono" font-weight="bold" font-size="7" fill="#ffe0d8">5</text>
<text x="105.5" y="320.8" font-family="Liberation Mono" font-weight="bold" font-size="7" fill="#ffe0d8">6</text>
<text x="105.5" y="350.1" font-family="Liberation Mono" font-weight="bold" font-size="7" fill="#ffe0d8">7</text>
<text x="105.5" y="379.4" font-family="Liberation Mono" font-weight="bold" font-size="7" fill="#ffe0d8">8</text>
<text x="105.5" y="408.7" font-family="Liberation Mono" font-weight="bold" font-size="7" fill="#ffe0d8">9</text>
<text x="105.5" y="438.0" font-family="Liberation Mono" font-weight="bold" font-size="7" fill="#ffe0d8">10</text>
<text x="105.5" y="467.3" font-family="Liberation Mono" font-weight="bold" font-size="7" fill="#ffe0d8">11</text>
<text x="105.5" y="496.6" font-family="Liberation Mono" font-weight="bold" font-size="7" fill="#ffe0d8">12</text>
<text x="105.5" y="525.9" font-family="Liberation Mono" font-weight="bold" font-size="7" fill="#ffe0d8">13</text>
<text x="105.5" y="555.2" font-family="Liberation Mono" font-weight="bold" font-size="7" fill="#ffe0d8">14</text>
<text x="105.5" y="584.5" font-family="Liberation Mono" font-weight="bold" font-size="7" fill="#ffe0d8">15</text>
<line x1="308.6" y1="140" x2="308.6" y2="915" stroke="#ffd8d0" stroke-width="0.8"/>
<line x1="303.1" y1="148.0" x2="308.6" y2="148.0" stroke="#ffd8d0" stroke-width="0.8"/>
<line x1="305.8" y1="155.1" x2="308.6" y2="155.1" stroke="#ffd8d0" stroke-width="0.8"/>
<line x1="305.8" y1="162.2" x2="308.6" y2="162.2" stroke="#ffd8d0" stroke-width="0.8"/>
<line x1="305.8" y1="169.3" x2="308.6" y2="169.3" stroke="#ffd8d0" stroke-width="0.8"/>
<line x1="305.8" y1="176.4" x2="308.6" y2="176.4" stroke="#ffd8d0" stroke-width="0.8"/>
<line x1="304.6" y1="183.5" x2="308.6" y2="183.5" stroke="#ffd8d0" stroke-width="0.8"/>
<line x1="305.8" y1="190.6" x2="308.6" y2="190.6" stroke="#ffd8d0" stroke-width="0.8"/>
<line x1="305.8" y1="197.7" x2="308.6" y2="197.7" stroke="#ffd8d0" stroke-width="0.8"/>
<line x1="305.8" y1="204.8" x2="308.6" y2="204.8" stroke="#ffd8d0" stroke-width="0.8"/>
<line x1="305.8" y1="211.9" x2="308.6" y2="211.9" stroke="#ffd8d0" stroke-width="0.8"/>
<line x1="303.1" y1="219.0" x2="308.6" y2="219.0" stroke="#ffd8d0" stroke-width="0.8"/>
<line x1="305.8" y1="226.1" x2="308.6" y2="226.1" stroke="#ffd8d0" stroke-width="0.8"/>
<line x1="305.8" y1="233.2" x2="308.6" y2="233.2" stroke="#ffd8d0" stroke-width="0.8"/>
<line x1="305.8" y1="240.3" x2="308.6" y2="240.3" stroke="#ffd8d0" stroke-width="0.8"/>
<line x1="305.8" y1="247.4" x2="308.6" y2="247.4" stroke="#ffd8d0" stroke-width="0.8"/>
<line x1="304.6" y1="254.5" x2="308.6" y2="254.5" stroke="#ffd8d0" stroke-width="0.8"/>
<line x1="305.8" y1="261.6" x2="308.6" y2="261.6" stroke="#ffd8d0" stroke-width="0.8"/>
<line x1="305.8" y1="268.7" x2="308.6" y2="268.7" stroke="#ffd8d0" stroke-width="0.8"/>
<line x1="305.8" y1="275.8" x2="308.6" y2="275.8" stroke="#ffd8d0" stroke-width="0.8"/>
<line x1="305.8" y1="282.9" x2="308.6" y2="282.9" stroke="#ffd8d0" stroke-width="0.8"/>
<line x1="303.1" y1="290.0" x2="308.6" y2="290.0" stroke="#ffd8d0" stroke-width="0.8"/>
<line x1="305.8" y1="297.1" x2="308.6" y2="297.1" stroke="#ffd8d0" stroke-width="0.8"/>
<line x1="305.8" y1="304.2" x2="308.6" y2="304.2" stroke="#ffd8d0" stroke-width="0.8"/>
<line x1="305.8" y1="311.3" x2="308.6" y2="311.3" stroke="#ffd8d0" stroke-width="0.8"/>
<line x1="305.8" y1="318.4" x2="308.6" y2="318.4" stroke="#ffd8d0" stroke-width="0.8"/>
<line x1="304.6" y1="325.5" x2="308.6" y2="325.5" stroke="#ffd8d0" stroke-width="0.8"/>
<line x1="305.8" y1="332.6" x2="308.6" y2="332.6" stroke="#ffd8d0" stroke-width="0.8"/>
<line x1="305.8" y1="339.7" x2="308.6" y2="339.7" stroke="#ffd8d0" stroke-width="0.8"/>
<line x1="305.8" y1="346.8" x2="308.6" y2="346.8" stroke="#ffd8d0" stroke-width="0.8"/>
<line x1="305.8" y1="353.9" x2="308.6" y2="353.9" stroke="#ffd8d0" stroke-width="0.8"/>
<line x1="303.1" y1="361.0" x2="308.6" y2="361.0" stroke="#ffd8d0" stroke-width="0.8"/>
<line x1="305.8" y1="368.1" x2="308.6" y2="368.1" stroke="#ffd8d0" stroke-width="0.8"/>
<line x1="305.8" y1="375.2" x2="308.6" y2="375.2" stroke="#ffd8d0" stroke-width="0.8"/>
<line x1="305.8" y1="382.3" x2="308.6" y2="382.3" stroke="#ffd8d0" stroke-width="0.8"/>
<line x1="305.8" y1="389.4" x2="308.6" y2="389.4" stroke="#ffd8d0" stroke-width="0.8"/>
<line x1="304.6" y1="396.5" x2="308.6" y2="396.5" stroke="#ffd8d0" stroke-width="0.8"/>
<line x1="305.8" y1="403.6" x2="308.6" y2="403.6" stroke="#ffd8d0" stroke-width="0.8"/>
<line x1="305.8" y1="410.7" x2="308.6" y2="410.7" stroke="#ffd8d0" stroke-width="0.8"/>
<line x1="305.8" y1="417.8" x2="308.6" y2="417.8" stroke="#ffd8d0" stroke-width="0.8"/>
<line x1="305.8" y1="424.9" x2="308.6" y2="424.9" stroke="#ffd8d0" stroke-width="0.8"/>
<line x1="303.1" y1="432.0" x2="308.6" y2="432.0" stroke="#ffd8d0" stroke-width="0.8"/>
<line x1="305.8" y1="439.1" x2="308.6" y2="439.1" stroke="#ffd8d0" stroke-width="0.8"/>
<line x1="305.8" y1="446.2" x2="308.6" y2="446.2" stroke="#ffd8d0" stroke-width="0.8"/>
<line x1="305.8" y1="453.3" x2="308.6" y2="453.3" stroke="#ffd8d0" stroke-width="0.8"/>
<line x1="305.8" y1="460.4" x2="308.6" y2="460.4" stroke="#ffd8d0" stroke-width="0.8"/>
<line x1="304.6" y1="467.5" x2="308.6" y2="467.5" stroke="#ffd8d0" stroke-width="0.8"/>
<line x1="305.8" y1="474.6" x2="308.6" y2="474.6" stroke="#ffd8d0" stroke-width="0.8"/>
<line x1="305.8" y1="481.7" x2="308.6" y2="481.7" stroke="#ffd8d0" stroke-width="0.8"/>
<line x1="305.8" y1="488.8" x2="308.6" y2="488.8" stroke="#ffd8d0" stroke-width="0.8"/>
<line x1="305.8" y1="495.9" x2="308.6" y2="495.9" stroke="#ffd8d0" stroke-width="0.8"/>
<line x1="303.1" y1="503.0" x2="308.6" y2="503.0" stroke="#ffd8d0" stroke-width="0.8"/>
<line x1="305.8" y1="510.1" x2="308.6" y2="510.1" stroke="#ffd8d0" stroke-width="0.8"/>
<line x1="305.8" y1="517.2" x2="308.6" y2="517.2" stroke="#ffd8d0" stroke-width="0.8"/>
<line x1="305.8" y1="524.3" x2="308.6" y2="524.3" stroke="#ffd8d0" stroke-width="0.8"/>
<line x1="305.8" y1="531.4" x2="308.6" y2="531.4" stroke="#ffd8d0" stroke-width="0.8"/>
<line x1="304.6" y1="538.5" x2="308.6" y2="538.5" stroke="#ffd8d0" stroke-width="0.8"/>
<line x1="305.8" y1="545.6" x2="308.6" y2="545.6" stroke="#ffd8d0" stroke-width="0.8"/>
<line x1="305.8" y1="552.7" x2="308.6" y2="552.7" stroke="#ffd8d0" stroke-width="0.8"/>
<line x1="305.8" y1="559.8" x2="308.6" y2="559.8" stroke="#ffd8d0" stroke-width="0.8"/>
<line x1="305.8" y1="566.9" x2="308.6" y2="566.9" stroke="#ffd8d0" stroke-width="0.8"/>
<line x1="303.1" y1="574.0" x2="308.6" y2="574.0" stroke="#ffd8d0" stroke-width="0.8"/>
<line x1="305.8" y1="581.1" x2="308.6" y2="581.1" stroke="#ffd8d0" stroke-width="0.8"/>
<line x1="305.8" y1="588.2" x2="308.6" y2="588.2" stroke="#ffd8d0" stroke-width="0.8"/>
<line x1="305.8" y1="595.3" x2="308.6" y2="595.3" stroke="#ffd8d0" stroke-width="0.8"/>
<line x1="305.8" y1="602.4" x2="308.6" y2="602.4" stroke="#ffd8d0" stroke-width="0.8"/>
<line x1="304.6" y1="609.5" x2="308.6" y2="609.5" stroke="#ffd8d0" stroke-width="0.8"/>
<line x1="305.8" y1="616.6" x2="308.6" y2="616.6" stroke="#ffd8d0" stroke-width="0.8"/>
<line x1="305.8" y1="623.7" x2="308.6" y2="623.7" stroke="#ffd8d0" stroke-width="0.8"/>
<line x1="305.8" y1="630.8" x2="308.6" y2="630.8" stroke="#ffd8d0" stroke-width="0.8"/>
<line x1="305.8" y1="637.9" x2="308.6" y2="637.9" stroke="#ffd8d0" stroke-width="0.8"/>
<line x1="303.1" y1="645.0" x2="308.6" y2="645.0" stroke="#ffd8d0" stroke-width="0.8"/>
<line x1="305.8" y1="652.1" x2="308.6" y2="652.1" stroke="#ffd8d0" stroke-width="0.8"/>
<line x1="305.8" y1="659.2" x2="308.6" y2="659.2" stroke="#ffd8d0" stroke-width="0.8"/>
<line x1="305.8" y1="666.3" x2="308.6" y2="666.3" stroke="#ffd8d0" stroke-width="0.8"/>
<line x1="305.8" y1="673.4" x2="308.6" y2="673.4" stroke="#ffd8d0" stroke-width="0.8"/>
<line x1="304.6" y1="680.5" x2="308.6" y2="680.5" stroke="#ffd8d0" stroke-width="0.8"/>
<line x1="305.8" y1="687.6" x2="308.6" y2="687.6" stroke="#ffd8d0" stroke-width="0.8"/>
<line x1="305.8" y1="694.7" x2="308.6" y2="694.7" stroke="#ffd8d0" stroke-width="0.8"/>
<line x1="305.8" y1="701.8" x2="308.6" y2="701.8" stroke="#ffd8d0" stroke-width="0.8"/>
<line x1="305.8" y1="708.9" x2="308.6" y2="708.9" stroke="#ffd8d0" stroke-width="0.8"/>
<line x1="303.1" y1="716.0" x2="308.6" y2="716.0" stroke="#ffd8d0" stroke-width="0.8"/>
<line x1="305.8" y1="723.1" x2="308.6" y2="723.1" stroke="#ffd8d0" stroke-width="0.8"/>
<line x1="305.8" y1="730.2" x2="308.6" y2="730.2" stroke="#ffd8d0" stroke-width="0.8"/>
<line x1="305.8" y1="737.3" x2="308.6" y2="737.3" stroke="#ffd8d0" stroke-width="0.8"/>
<line x1="305.8" y1="744.4" x2="308.6" y2="744.4" stroke="#ffd8d0" stroke-width="0.8"/>
<line x1="304.6" y1="751.5" x2="308.6" y2="751.5" stroke="#ffd8d0" stroke-width="0.8"/>
<line x1="305.8" y1="758.6" x2="308.6" y2="758.6" stroke="#ffd8d0" stroke-width="0.8"/>
<line x1="305.8" y1="765.7" x2="308.6" y2="765.7" stroke="#ffd8d0" stroke-width="0.8"/>
<line x1="305.8" y1="772.8" x2="308.6" y2="772.8" stroke="#ffd8d0" stroke-width="0.8"/>
<line x1="305.8" y1="779.9" x2="308.6" y2="779.9" stroke="#ffd8d0" stroke-width="0.8"/>
<line x1="303.1" y1="787.0" x2="308.6" y2="787.0" stroke="#ffd8d0" stroke-width="0.8"/>
<line x1="305.8" y1="794.1" x2="308.6" y2="794.1" stroke="#ffd8d0" stroke-width="0.8"/>
<line x1="305.8" y1="801.2" x2="308.6" y2="801.2" stroke="#ffd8d0" stroke-width="0.8"/>
<line x1="305.8" y1="808.3" x2="308.6" y2="808.3" stroke="#ffd8d0" stroke-width="0.8"/>
<line x1="305.8" y1="815.4" x2="308.6" y2="815.4" stroke="#ffd8d0" stroke-width="0.8"/>
<line x1="304.6" y1="822.5" x2="308.6" y2="822.5" stroke="#ffd8d0" stroke-width="0.8"/>
<line x1="305.8" y1="829.6" x2="308.6" y2="829.6" stroke="#ffd8d0" stroke-width="0.8"/>
<line x1="305.8" y1="836.7" x2="308.6" y2="836.7" stroke="#ffd8d0" stroke-width="0.8"/>
<line x1="305.8" y1="843.8" x2="308.6" y2="843.8" stroke="#ffd8d0" stroke-width="0.8"/>
<line x1="305.8" y1="850.9" x2="308.6" y2="850.9" stroke="#ffd8d0" stroke-width="0.8"/>
<line x1="303.1" y1="858.0" x2="308.6" y2="858.0" stroke="#ffd8d0" stroke-width="0.8"/>
<line x1="305.8" y1="865.1" x2="308.6" y2="865.1" stroke="#ffd8d0" stroke-width="0.8"/>
<line x1="305.8" y1="872.2" x2="308.6" y2="872.2" stroke="#ffd8d0" stroke-width="0.8"/>
<line x1="305.8" y1="879.3" x2="308.6" y2="879.3" stroke="#ffd8d0" stroke-width="0.8"/>
<line x1="305.8" y1="886.4" x2="308.6" y2="886.4" stroke="#ffd8d0" stroke-width="0.8"/>
<line x1="304.6" y1="893.5" x2="308.6" y2="893.5" stroke="#ffd8d0" stroke-width="0.8"/>
<line x1="305.8" y1="900.6" x2="308.6" y2="900.6" stroke="#ffd8d0" stroke-width="0.8"/>
<line x1="305.8" y1="907.7" x2="308.6" y2="907.7" stroke="#ffd8d0" stroke-width="0.8"/>
<text x="300" y="222.0" font-family="Liberation Mono" font-weight="bold" font-size="8" fill="#ffe0d8">1</text>
<text x="300" y="293.0" font-family="Liberation Mono" font-weight="bold" font-size="8" fill="#ffe0d8">2</text>
<text x="300" y="364.0" font-family="Liberation Mono" font-weight="bold" font-size="8" fill="#ffe0d8">3</text>
<text x="300" y="435.0" font-family="Liberation Mono" font-weight="bold" font-size="8" fill="#ffe0d8">4</text>
<text x="300" y="506.0" font-family="Liberation Mono" font-weight="bold" font-size="8" fill="#ffe0d8">5</text>
<text x="300" y="577.0" font-family="Liberation Mono" font-weight="bold" font-size="8" fill="#ffe0d8">6</text>
<text x="300" y="648.0" font-family="Liberation Mono" font-weight="bold" font-size="8" fill="#ffe0d8">7</text>
<text x="300" y="719.0" font-family="Liberation Mono" font-weight="bold" font-size="8" fill="#ffe0d8">8</text>
<text x="300" y="790.0" font-family="Liberation Mono" font-weight="bold" font-size="8" fill="#ffe0d8">9</text>
<text x="300" y="861.0" font-family="Liberation Mono" font-weight="bold" font-size="8" fill="#ffe0d8">10</text>
<text x="297.0" y="141.9" textLength="14.0" lengthAdjust="spacingAndGlyphs" font-family="Liberation Mono" font-weight="bold" font-size="8" fill="#fff0ea" stroke="#fff0ea" stroke-width="0.35">inch</text>
<text x="301.5" y="151.2" textLength="5.0" lengthAdjust="spacingAndGlyphs" font-family="Liberation Mono" font-weight="bold" font-size="9" fill="#fff0ea" stroke="#fff0ea" stroke-width="0.35">0</text>
<text x="103.0" y="135.7" textLength="7.0" lengthAdjust="spacingAndGlyphs" font-family="Liberation Mono" font-weight="bold" font-size="6" fill="#fff0ea" stroke="#fff0ea" stroke-width="0.35">cm</text>
<path d="M117.8,128 L117.8,143.3 L173.6,143.3 L173.6,128" fill="none" stroke="#ffd0c8" stroke-width="1"/>
<path d="M117.8,151 L117.8,158.6 L173.6,158.6 L173.6,151" fill="none" stroke="#ffd0c8" stroke-width="1"/>
<path d="M117.8,173 L117.8,181 L173.6,181 L173.6,173" fill="none" stroke="#ffd0c8" stroke-width="1"/>
<path d="M117.8,197 L117.8,208 L173.6,208 L173.6,197" fill="none" stroke="#ffd0c8" stroke-width="1"/>
<path d="M117.8,223 L117.8,233.3 L173.6,233.3 L173.6,223" fill="none" stroke="#ffd0c8" stroke-width="1"/>
<path d="M244,132 L244,146.9 L296.3,146.9 L296.3,132" fill="none" stroke="#ffd0c8" stroke-width="1"/>
<path d="M244,155 L244,162 L296.3,162 L296.3,155" fill="none" stroke="#ffd0c8" stroke-width="1"/>
<path d="M244,176 L244,183.8 L296.3,183.8 L296.3,176" fill="none" stroke="#ffd0c8" stroke-width="1"/>
<path d="M244,199 L244,209 L296.3,209 L296.3,199" fill="none" stroke="#ffd0c8" stroke-width="1"/>
<path d="M244,225 L244,234.2 L296.3,234.2 L296.3,225" fill="none" stroke="#ffd0c8" stroke-width="1"/>
<line x1="145.7" y1="143.3" x2="145.7" y2="152" stroke="#ffd0c8" stroke-width="1"/>
<line x1="145.7" y1="158.6" x2="145.7" y2="163" stroke="#ffd0c8" stroke-width="1"/>
<line x1="145.7" y1="181" x2="145.7" y2="188" stroke="#ffd0c8" stroke-width="1"/>
<line x1="145.7" y1="208" x2="145.7" y2="214" stroke="#ffd0c8" stroke-width="1"/>
<line x1="145.7" y1="233.3" x2="145.7" y2="238" stroke="#ffd0c8" stroke-width="1"/>
<line x1="270" y1="146.9" x2="270" y2="150" stroke="#ffd0c8" stroke-width="1"/>
<line x1="270" y1="162" x2="270" y2="167" stroke="#ffd0c8" stroke-width="1"/>
<line x1="270" y1="183.8" x2="270" y2="190" stroke="#ffd0c8" stroke-width="1"/>
<line x1="270" y1="209" x2="270" y2="214" stroke="#ffd0c8" stroke-width="1"/>
<line x1="270" y1="234.2" x2="270" y2="240" stroke="#ffd0c8" stroke-width="1"/>
<ellipse cx="145.7" cy="133.0" rx="16.0" ry="8.2" fill="#f0948a" />
<ellipse cx="143.7" cy="133.0" rx="14.0" ry="7.7" fill="#c01818" />
<ellipse cx="140.7" cy="133.0" rx="13.0" ry="7.7" fill="#252626" />
<ellipse cx="270.0" cy="137.5" rx="15.0" ry="8.1" fill="#f0948a" />
<ellipse cx="268.0" cy="137.5" rx="13.0" ry="7.6" fill="#c01818" />
<ellipse cx="265.0" cy="137.5" rx="12.0" ry="7.6" fill="#252626" />
<path d="M185.8,372.4 A8.8,6.0 0 0 1 194.5,378.2 C194.0,387.5 180.2,388.5 168.0,399.0 L158.0,395.0 C159.4,392.0 163.5,385.5 173.2,383.5 H185.8 A5.2,5.2 0 0 0 185.8,373.0 Z" fill="url(#lip)"/>
<path d="M113.8,374.5 L185.8,373.0 A5.2,5.2 0 0 1 185.8,383.5 H173.2 C163.5,385.5 159.4,392.0 157.0,395.0 H137.5 C135.1,392.0 129.4,383.5 124.6,383.5 L113.8,382.0 A3.8,3.8 0 0 1 113.8,374.5 Z" fill="#252626"/>
<path d="M185.8,418.9 A8.8,6.0 0 0 1 194.5,424.8 C194.0,434.0 180.2,435.0 168.0,446.0 L158.0,442.0 C159.4,439.0 163.5,432.0 173.2,430.0 H185.8 A5.2,5.2 0 0 0 185.8,419.5 Z" fill="url(#lip)"/>
<path d="M113.8,421.0 L185.8,419.5 A5.2,5.2 0 0 1 185.8,430.0 H173.2 C163.5,432.0 159.4,439.0 157.0,442.0 H137.5 C135.1,439.0 129.4,430.0 124.6,430.0 L113.8,428.5 A3.8,3.8 0 0 1 113.8,421.0 Z" fill="#252626"/>
<path d="M185.0,462.9 A9.5,6.8 0 0 1 194.5,469.5 C194.0,479.5 180.2,480.5 168.0,491.0 L158.0,487.0 C159.4,484.0 163.5,477.5 173.2,475.5 H185.0 A6.0,6.0 0 0 0 185.0,463.5 Z" fill="url(#lip)"/>
<path d="M114.3,465.2 L185.0,463.5 A6.0,6.0 0 0 1 185.0,475.5 H173.2 C163.5,477.5 159.4,484.0 157.0,487.0 H137.5 C135.1,484.0 129.4,475.5 124.6,475.5 L114.3,473.8 A4.3,4.3 0 0 1 114.3,465.2 Z" fill="#252626"/>
<path d="M185.8,507.9 A8.8,6.0 0 0 1 194.5,513.8 C194.0,523.0 180.2,524.0 168.0,535.0 L158.0,531.0 C159.4,528.0 163.5,521.0 173.2,519.0 H185.8 A5.2,5.2 0 0 0 185.8,508.5 Z" fill="url(#lip)"/>
<path d="M113.8,510.0 L185.8,508.5 A5.2,5.2 0 0 1 185.8,519.0 H173.2 C163.5,521.0 159.4,528.0 157.0,531.0 H137.5 C135.1,528.0 129.4,519.0 124.6,519.0 L113.8,517.5 A3.8,3.8 0 0 1 113.8,510.0 Z" fill="#252626"/>
<path d="M185.8,561.9 A8.8,6.0 0 0 1 194.5,567.8 C194.0,577.0 180.2,578.0 168.0,589.0 L158.0,585.0 C159.4,582.0 163.5,575.0 173.2,573.0 H185.8 A5.2,5.2 0 0 0 185.8,562.5 Z" fill="url(#lip)"/>
<path d="M113.8,564.0 L185.8,562.5 A5.2,5.2 0 0 1 185.8,573.0 H173.2 C163.5,575.0 159.4,582.0 157.0,585.0 H137.5 C135.1,582.0 129.4,573.0 124.6,573.0 L113.8,571.5 A3.8,3.8 0 0 1 113.8,564.0 Z" fill="#252626"/>
<path d="M185.8,612.9 A8.8,6.0 0 0 1 194.5,618.8 C194.0,628.0 180.2,629.0 168.0,640.0 L158.0,636.0 C159.4,633.0 163.5,626.0 173.2,624.0 H185.8 A5.2,5.2 0 0 0 185.8,613.5 Z" fill="url(#lip)"/>
<path d="M113.8,615.0 L185.8,613.5 A5.2,5.2 0 0 1 185.8,624.0 H173.2 C163.5,626.0 159.4,633.0 157.0,636.0 H137.5 C135.1,633.0 129.4,624.0 124.6,624.0 L113.8,622.5 A3.8,3.8 0 0 1 113.8,615.0 Z" fill="#252626"/>
<path d="M181.0,668.9 A8.9,6.2 0 0 1 189.9,674.9 C189.4,684.3 176.8,685.3 165.6,697.4 L155.6,693.4 C156.9,690.4 160.7,682.3 169.8,680.3 H181.0 A5.4,5.4 0 0 0 181.0,669.5 Z" fill="url(#lip)"/>
<path d="M114.7,671.0 L181.0,669.5 A5.4,5.4 0 0 1 181.0,680.3 H169.8 C160.7,682.3 156.9,690.4 154.6,693.4 H136.5 C134.2,690.4 128.9,680.3 124.4,680.3 L114.7,678.8 A3.9,3.9 0 0 1 114.7,671.0 Z" fill="#252626"/>
<path d="M178.8,730.1 A9.3,6.6 0 0 1 188.1,736.5 C187.6,746.4 175.4,747.4 164.6,758.6 L154.6,754.6 C155.8,751.6 159.5,744.4 168.4,742.4 H178.8 A5.8,5.8 0 0 0 178.8,730.7 Z" fill="url(#lip)"/>
<path d="M115.0,732.3 L178.8,730.7 A5.8,5.8 0 0 1 178.8,742.4 H168.4 C159.5,744.4 155.8,751.6 153.6,754.6 H135.9 C133.7,751.6 128.5,742.4 124.1,742.4 L115.0,740.8 A4.2,4.2 0 0 1 115.0,732.3 Z" fill="#252626"/>
<path d="M192.3,787.4 A11.2,8.5 0 0 1 203.5,795.7 C203.0,807.4 187.2,808.4 173.2,819.6 L163.2,815.6 C164.9,812.6 169.4,805.4 180.2,803.4 H192.3 A7.7,7.7 0 0 0 192.3,788.0 Z" fill="url(#lip)"/>
<path d="M115.5,790.2 L192.3,788.0 A7.7,7.7 0 0 1 192.3,803.4 H180.2 C169.4,805.4 164.9,812.6 162.2,815.6 H140.6 C137.9,812.6 131.6,803.4 126.2,803.4 L115.5,801.2 A5.5,5.5 0 0 1 115.5,790.2 Z" fill="#252626"/>
<path d="M193.1,858.4 A13.0,10.3 0 0 1 206.1,868.5 C205.6,882.0 189.2,883.0 174.7,894.0 L164.7,890.0 C166.5,887.0 171.1,880.0 182.2,878.0 H193.1 A9.5,9.5 0 0 0 193.1,859.0 Z" fill="url(#lip)"/>
<path d="M116.8,861.7 L193.1,859.0 A9.5,9.5 0 0 1 193.1,878.0 H182.2 C171.1,880.0 166.5,887.0 163.7,890.0 H141.5 C138.7,887.0 132.2,878.0 126.7,878.0 L116.8,875.3 A6.8,6.8 0 0 1 116.8,861.7 Z" fill="#252626"/>
<path d="M286.9,371.1 A10.2,7.5 0 0 1 297.1,378.4 C296.6,389.2 285.7,390.2 276.2,401.4 L266.2,397.4 C267.2,394.4 270.6,387.2 278.7,385.2 H286.9 A6.8,6.8 0 0 0 286.9,371.7 Z" fill="url(#lip)"/>
<path d="M230.9,373.6 L286.9,371.7 A6.8,6.8 0 0 1 286.9,385.2 H278.7 C270.6,387.2 267.2,394.4 265.2,397.4 H249.0 C247.0,394.4 242.2,385.2 238.2,385.2 L230.9,383.3 A4.9,4.9 0 0 1 230.9,373.6 Z" fill="#252626"/>
<path d="M286.9,416.1 A10.2,7.5 0 0 1 297.1,423.4 C296.6,434.2 285.4,435.2 275.5,447.3 L265.5,443.3 C266.6,440.3 270.0,432.2 278.4,430.2 H286.9 A6.8,6.8 0 0 0 286.9,416.7 Z" fill="url(#lip)"/>
<path d="M229.2,418.6 L286.9,416.7 A6.8,6.8 0 0 1 286.9,430.2 H278.4 C270.0,432.2 266.6,440.3 264.5,443.3 H247.9 C245.8,440.3 240.9,430.2 236.8,430.2 L229.2,428.3 A4.9,4.9 0 0 1 229.2,418.6 Z" fill="#252626"/>
<path d="M287.8,459.2 A9.3,6.6 0 0 1 297.1,465.6 C296.6,475.5 285.6,476.5 275.9,487.7 L265.9,483.7 C266.9,480.7 270.3,473.5 278.6,471.5 H287.8 A5.8,5.8 0 0 0 287.8,459.8 Z" fill="url(#lip)"/>
<path d="M229.4,461.4 L287.8,459.8 A5.8,5.8 0 0 1 287.8,471.5 H278.6 C270.3,473.5 266.9,480.7 264.9,483.7 H248.5 C246.4,480.7 241.6,471.5 237.5,471.5 L229.4,469.9 A4.2,4.2 0 0 1 229.4,461.4 Z" fill="#252626"/>
<path d="M287.8,503.4 A9.3,6.6 0 0 1 297.1,509.8 C296.6,519.6 285.4,520.6 275.5,531.8 L265.5,527.8 C266.6,524.8 270.0,517.6 278.4,515.6 H287.8 A5.8,5.8 0 0 0 287.8,504.0 Z" fill="url(#lip)"/>
<path d="M228.5,505.6 L287.8,504.0 A5.8,5.8 0 0 1 287.8,515.6 H278.4 C270.0,517.6 266.6,524.8 264.5,527.8 H247.9 C245.8,524.8 240.9,515.6 236.8,515.6 L228.5,514.0 A4.2,4.2 0 0 1 228.5,505.6 Z" fill="#252626"/>
<path d="M287.2,555.4 A9.9,7.2 0 0 1 297.1,562.4 C296.6,572.7 285.4,573.7 275.5,584.0 L265.5,580.0 C266.6,577.0 270.0,570.7 278.4,568.7 H287.2 A6.4,6.4 0 0 0 287.2,556.0 Z" fill="url(#lip)"/>
<path d="M228.9,557.8 L287.2,556.0 A6.4,6.4 0 0 1 287.2,568.7 H278.4 C270.0,570.7 266.6,577.0 264.5,580.0 H247.9 C245.8,577.0 240.9,568.7 236.8,568.7 L228.9,566.9 A4.6,4.6 0 0 1 228.9,557.8 Z" fill="#252626"/>
<path d="M288.5,608.4 A9.0,6.3 0 0 1 297.5,614.5 C297.0,624.0 285.6,625.0 275.6,636.0 L265.6,632.0 C266.7,629.0 270.2,622.0 278.6,620.0 H288.5 A5.5,5.5 0 0 0 288.5,609.0 Z" fill="url(#lip)"/>
<path d="M228.0,610.5 L288.5,609.0 A5.5,5.5 0 0 1 288.5,620.0 H278.6 C270.2,622.0 266.7,629.0 264.6,632.0 H247.8 C245.7,629.0 240.8,620.0 236.6,620.0 L228.0,618.5 A4.0,4.0 0 0 1 228.0,610.5 Z" fill="#252626"/>
<path d="M287.8,658.1 A10.2,7.5 0 0 1 298.0,665.5 C297.5,676.2 286.4,677.2 276.7,688.4 L266.7,684.4 C267.8,681.4 271.2,674.2 279.4,672.2 H287.8 A6.8,6.8 0 0 0 287.8,658.7 Z" fill="url(#lip)"/>
<path d="M230.9,660.6 L287.8,658.7 A6.8,6.8 0 0 1 287.8,672.2 H279.4 C271.2,674.2 267.8,681.4 265.7,684.4 H249.3 C247.2,681.4 242.4,672.2 238.3,672.2 L230.9,670.3 A4.9,4.9 0 0 1 230.9,660.6 Z" fill="#252626"/>
<path d="M288.6,718.4 A9.4,6.7 0 0 1 298.0,724.9 C297.5,734.7 285.5,735.7 274.9,748.7 L264.9,744.7 C266.1,741.7 269.7,732.7 278.5,730.7 H288.6 A5.9,5.9 0 0 0 288.6,719.0 Z" fill="url(#lip)"/>
<path d="M225.8,720.6 L288.6,719.0 A5.9,5.9 0 0 1 288.6,730.7 H278.5 C269.7,732.7 266.1,741.7 263.9,744.7 H246.4 C244.2,741.7 239.1,730.7 234.7,730.7 L225.8,729.1 A4.2,4.2 0 0 1 225.8,720.6 Z" fill="#252626"/>
<path d="M286.1,773.4 A11.0,8.3 0 0 1 297.1,781.5 C296.6,793.0 283.2,794.0 271.3,801.8 L261.3,797.8 C262.7,794.8 266.7,791.0 276.2,789.0 H286.1 A7.5,7.5 0 0 0 286.1,774.0 Z" fill="url(#lip)"/>
<path d="M219.8,776.1 L286.1,774.0 A7.5,7.5 0 0 1 286.1,789.0 H276.2 C266.7,791.0 262.7,794.8 260.3,797.8 H241.3 C239.0,794.8 233.4,789.0 228.7,789.0 L219.8,786.9 A5.4,5.4 0 0 1 219.8,776.1 Z" fill="#252626"/>
<path d="M290.3,848.7 A11.2,8.5 0 0 1 301.5,857.0 C301.0,868.6 287.6,869.6 275.8,880.8 L265.8,876.8 C267.2,873.8 271.1,866.6 280.6,864.6 H290.3 A7.7,7.7 0 0 0 290.3,849.3 Z" fill="url(#lip)"/>
<path d="M224.5,851.4 L290.3,849.3 A7.7,7.7 0 0 1 290.3,864.6 H280.6 C271.1,866.6 267.2,873.8 264.8,876.8 H245.9 C243.5,873.8 238.0,864.6 233.2,864.6 L224.5,862.5 A5.5,5.5 0 0 1 224.5,851.4 Z" fill="#252626"/>
<ellipse cx="207.5" cy="149.8" rx="18.0" ry="20.0" fill="url(#cres)"/>
<ellipse cx="203.8" cy="149.8" rx="14.2" ry="19.4" fill="#252626"/>
<ellipse cx="208.2" cy="202.2" rx="15.8" ry="17.2" fill="url(#cres)"/>
<ellipse cx="204.5" cy="202.2" rx="12.0" ry="16.7" fill="#252626"/>
<ellipse cx="207.5" cy="252.5" rx="15.0" ry="16.5" fill="url(#cres)"/>
<ellipse cx="203.8" cy="252.5" rx="11.2" ry="16.0" fill="#252626"/>
<ellipse cx="207.8" cy="296.0" rx="13.4" ry="14.0" fill="url(#cres)"/>
<ellipse cx="203.4" cy="296.0" rx="9.0" ry="13.6" fill="#252626"/>
<ellipse cx="207.8" cy="338.1" rx="12.2" ry="13.1" fill="url(#cres)"/>
<ellipse cx="204.0" cy="338.1" rx="8.4" ry="12.7" fill="#252626"/>
<ellipse cx="207.8" cy="374.4" rx="10.3" ry="10.6" fill="url(#cres)"/>
<ellipse cx="203.4" cy="374.4" rx="5.9" ry="10.3" fill="#252626"/>
<ellipse cx="207.8" cy="409.0" rx="10.3" ry="11.0" fill="url(#cres)"/>
<ellipse cx="203.5" cy="409.0" rx="6.0" ry="10.7" fill="#252626"/>
<ellipse cx="207.5" cy="443.8" rx="8.1" ry="8.8" fill="url(#cres)"/>
<ellipse cx="203.5" cy="443.8" rx="4.1" ry="8.5" fill="#252626"/>
<ellipse cx="207.8" cy="472.2" rx="7.8" ry="8.4" fill="url(#cres)"/>
<ellipse cx="203.8" cy="472.2" rx="3.8" ry="8.1" fill="#252626"/>
<ellipse cx="207.8" cy="499.0" rx="7.2" ry="7.8" fill="url(#cres)"/>
<ellipse cx="204.1" cy="499.0" rx="3.5" ry="7.6" fill="#252626"/>
<ellipse cx="207.2" cy="522.5" rx="5.9" ry="5.6" fill="url(#cres)"/>
<ellipse cx="203.8" cy="522.5" rx="2.5" ry="5.4" fill="#3a1414"/>
<ellipse cx="207.5" cy="545.0" rx="5.6" ry="5.0" fill="url(#cres)"/>
<ellipse cx="204.4" cy="545.0" rx="2.5" ry="4.8" fill="#3a1414"/>
<ellipse cx="207.5" cy="567.2" rx="5.3" ry="5.3" fill="url(#cres)"/>
<ellipse cx="204.7" cy="567.2" rx="2.5" ry="5.1" fill="#3a1414"/>
<ellipse cx="207.5" cy="589.0" rx="5.3" ry="4.0" fill="url(#cres)"/>
<ellipse cx="204.2" cy="589.0" rx="2.0" ry="3.9" fill="#3a1414"/>
<ellipse cx="207.5" cy="608.8" rx="4.7" ry="3.8" fill="url(#cres)"/>
<ellipse cx="204.8" cy="608.8" rx="2.0" ry="3.6" fill="#3a1414"/>
<ellipse cx="207.5" cy="627.0" rx="4.4" ry="3.5" fill="url(#cres)"/>
<ellipse cx="205.1" cy="627.0" rx="2.0" ry="3.4" fill="#3a1414"/>
<rect x="199.5" y="686.5" width="15" height="88" rx="6" fill="url(#cres)"/>
<rect x="199.5" y="687.5" width="8" height="86.5" rx="4" fill="#252626"/>
<line x1="141.0" y1="251.3" x2="165.8" y2="251.3" stroke="#ffd0c8" stroke-width="1"/>
<line x1="266.4" y1="253.0" x2="289.0" y2="253.0" stroke="#ffd0c8" stroke-width="1"/>
<line x1="142.8" y1="283.0" x2="165.6" y2="283.0" stroke="#ffd0c8" stroke-width="1"/>
<line x1="265.5" y1="285.0" x2="290.0" y2="285.0" stroke="#ffd0c8" stroke-width="1"/>
<line x1="145.5" y1="320.5" x2="165.7" y2="320.5" stroke="#ffd0c8" stroke-width="1"/>
<line x1="266.4" y1="320.0" x2="287.2" y2="320.0" stroke="#ffd0c8" stroke-width="1"/>
<line x1="145.5" y1="358.6" x2="166.3" y2="358.6" stroke="#ffd0c8" stroke-width="1"/>
<line x1="265.5" y1="357.0" x2="287.2" y2="357.0" stroke="#ffd0c8" stroke-width="1"/>
<line x1="151.5" y1="401.5" x2="165.6" y2="401.5" stroke="#ffd0c8" stroke-width="1"/>
<line x1="264.6" y1="397.8" x2="283.8" y2="397.8" stroke="#ffd0c8" stroke-width="1"/>
<line x1="151.5" y1="443.5" x2="165.0" y2="443.5" stroke="#ffd0c8" stroke-width="1"/>
<line x1="265.5" y1="442.0" x2="281.0" y2="442.0" stroke="#ffd0c8" stroke-width="1"/>
<line x1="150.0" y1="492.0" x2="165.0" y2="492.0" stroke="#ffd0c8" stroke-width="1"/>
<line x1="264.6" y1="487.0" x2="279.2" y2="487.0" stroke="#ffd0c8" stroke-width="1"/>
<line x1="156.5" y1="541.8" x2="162.5" y2="541.8" stroke="#ffd0c8" stroke-width="1"/>
<line x1="265.5" y1="535.5" x2="279.2" y2="535.5" stroke="#ffd0c8" stroke-width="1"/>
<line x1="157.0" y1="595.0" x2="162.5" y2="595.0" stroke="#ffd0c8" stroke-width="1"/>
<line x1="267.3" y1="587.6" x2="276.5" y2="587.6" stroke="#ffd0c8" stroke-width="1"/>
<line x1="155.6" y1="648.0" x2="163.8" y2="648.0" stroke="#ffd0c8" stroke-width="1"/>
<line x1="268.2" y1="638.5" x2="274.5" y2="638.5" stroke="#ffd0c8" stroke-width="1"/>
<line x1="160.0" y1="708.0" x2="161.8" y2="708.0" stroke="#ffd0c8" stroke-width="1"/>
<line x1="268.2" y1="697.0" x2="272.0" y2="697.0" stroke="#ffd0c8" stroke-width="1"/>
<line x1="159.0" y1="769.0" x2="162.5" y2="769.0" stroke="#ffd0c8" stroke-width="1"/>
<line x1="268.2" y1="757.0" x2="271.2" y2="757.0" stroke="#ffd0c8" stroke-width="1"/>
<ellipse cx="172.7" cy="128.0" rx="3.0" ry="3.0" fill="#8e0c0c" />
<ellipse cx="173.4" cy="128.0" rx="2.1" ry="2.4" fill="#b51818" />
<path d="M172.7,125.0 A3.0,3.0 0 0 0 172.7,131.0 A1.0,3.0 0 0 1 172.7,125.0 Z" fill="#252626"/>
<ellipse cx="172.7" cy="149.6" rx="3.5" ry="3.5" fill="#8e0c0c" />
<ellipse cx="173.6" cy="149.6" rx="2.4" ry="2.8" fill="#b51818" />
<path d="M172.7,146.1 A3.5,3.5 0 0 0 172.7,153.1 A1.2,3.5 0 0 1 172.7,146.1 Z" fill="#252626"/>
<ellipse cx="172.7" cy="172.0" rx="4.0" ry="4.0" fill="#8e0c0c" />
<ellipse cx="173.7" cy="172.0" rx="2.8" ry="3.2" fill="#b51818" />
<path d="M172.7,168.0 A4.0,4.0 0 0 0 172.7,176.0 A1.4,4.0 0 0 1 172.7,168.0 Z" fill="#252626"/>
<ellipse cx="173.0" cy="195.6" rx="5.0" ry="5.6" fill="#8e0c0c" />
<ellipse cx="174.2" cy="195.6" rx="3.5" ry="4.5" fill="#b51818" />
<path d="M173.0,190.0 A5.0,5.6 0 0 0 173.0,201.2 A1.8,5.6 0 0 1 173.0,190.0 Z" fill="#252626"/>
<ellipse cx="173.2" cy="221.8" rx="5.8" ry="6.8" fill="#8e0c0c" />
<ellipse cx="174.6" cy="221.8" rx="4.1" ry="5.4" fill="#b51818" />
<path d="M173.2,215.0 A5.8,6.8 0 0 0 173.2,228.6 A2.0,6.8 0 0 1 173.2,215.0 Z" fill="#252626"/>
<ellipse cx="172.9" cy="252.8" rx="7.1" ry="7.9" fill="#8e0c0c" />
<ellipse cx="174.7" cy="252.8" rx="5.0" ry="6.3" fill="#b51818" />
<path d="M172.9,244.9 A7.1,7.9 0 0 0 172.9,260.7 A2.5,7.9 0 0 1 172.9,244.9 Z" fill="#252626"/>
<ellipse cx="176.6" cy="285.0" rx="7.4" ry="10.6" fill="none" stroke="#ff8a80" stroke-width="0.8" opacity="0.75"/>
<ellipse cx="174.6" cy="285.0" rx="6.6" ry="9.9" fill="none" stroke="#ff8a80" stroke-width="0.8" opacity="0.75"/>
<ellipse cx="172.6" cy="285.0" rx="5.8" ry="9.3" fill="none" stroke="#ff8a80" stroke-width="0.8" opacity="0.75"/>
<ellipse cx="172.1" cy="285.0" rx="6.0" ry="9.2" fill="#b80f0f" />
<ellipse cx="170.6" cy="285.0" rx="5.0" ry="8.8" fill="#252626" />
<ellipse cx="177.2" cy="321.0" rx="8.0" ry="11.5" fill="none" stroke="#ff8a80" stroke-width="0.8" opacity="0.75"/>
<ellipse cx="175.2" cy="321.0" rx="7.2" ry="10.9" fill="none" stroke="#ff8a80" stroke-width="0.8" opacity="0.75"/>
<ellipse cx="173.2" cy="321.0" rx="6.4" ry="10.3" fill="none" stroke="#ff8a80" stroke-width="0.8" opacity="0.75"/>
<ellipse cx="172.8" cy="321.0" rx="6.6" ry="10.2" fill="#b80f0f" />
<ellipse cx="171.2" cy="321.0" rx="5.6" ry="9.7" fill="#252626" />
<ellipse cx="177.9" cy="357.2" rx="8.0" ry="11.5" fill="none" stroke="#ff8a80" stroke-width="0.8" opacity="0.75"/>
<ellipse cx="175.9" cy="357.2" rx="7.2" ry="10.9" fill="none" stroke="#ff8a80" stroke-width="0.8" opacity="0.75"/>
<ellipse cx="173.9" cy="357.2" rx="6.4" ry="10.3" fill="none" stroke="#ff8a80" stroke-width="0.8" opacity="0.75"/>
<ellipse cx="173.4" cy="357.2" rx="6.6" ry="10.2" fill="#b80f0f" />
<ellipse cx="171.9" cy="357.2" rx="5.6" ry="9.7" fill="#252626" />
<ellipse cx="180.0" cy="399.7" rx="10.8" ry="14.0" fill="none" stroke="#ff8a80" stroke-width="0.8" opacity="0.75"/>
<ellipse cx="178.0" cy="399.7" rx="10.0" ry="13.4" fill="none" stroke="#ff8a80" stroke-width="0.8" opacity="0.75"/>
<ellipse cx="176.0" cy="399.7" rx="9.2" ry="12.8" fill="none" stroke="#ff8a80" stroke-width="0.8" opacity="0.75"/>
<ellipse cx="175.5" cy="399.7" rx="9.4" ry="12.7" fill="#b80f0f" />
<ellipse cx="174.0" cy="399.7" rx="8.4" ry="12.2" fill="#252626" />
<ellipse cx="179.4" cy="445.0" rx="10.8" ry="13.7" fill="none" stroke="#ff8a80" stroke-width="0.8" opacity="0.75"/>
<ellipse cx="177.4" cy="445.0" rx="10.0" ry="13.1" fill="none" stroke="#ff8a80" stroke-width="0.8" opacity="0.75"/>
<ellipse cx="175.4" cy="445.0" rx="9.2" ry="12.5" fill="none" stroke="#ff8a80" stroke-width="0.8" opacity="0.75"/>
<ellipse cx="174.9" cy="445.0" rx="9.4" ry="12.4" fill="#b80f0f" />
<ellipse cx="173.4" cy="445.0" rx="8.4" ry="11.9" fill="#252626" />
<ellipse cx="179.4" cy="489.4" rx="10.8" ry="13.7" fill="none" stroke="#ff8a80" stroke-width="0.8" opacity="0.75"/>
<ellipse cx="177.4" cy="489.4" rx="10.0" ry="13.1" fill="none" stroke="#ff8a80" stroke-width="0.8" opacity="0.75"/>
<ellipse cx="175.4" cy="489.4" rx="9.2" ry="12.5" fill="none" stroke="#ff8a80" stroke-width="0.8" opacity="0.75"/>
<ellipse cx="174.9" cy="489.4" rx="9.4" ry="12.4" fill="#b80f0f" />
<ellipse cx="173.4" cy="489.4" rx="8.4" ry="11.9" fill="#252626" />
<ellipse cx="179.1" cy="537.5" rx="13.0" ry="16.2" fill="none" stroke="#ff8a80" stroke-width="0.8" opacity="0.75"/>
<ellipse cx="177.1" cy="537.5" rx="12.2" ry="15.6" fill="none" stroke="#ff8a80" stroke-width="0.8" opacity="0.75"/>
<ellipse cx="175.1" cy="537.5" rx="11.4" ry="15.0" fill="none" stroke="#ff8a80" stroke-width="0.8" opacity="0.75"/>
<ellipse cx="174.6" cy="537.5" rx="11.6" ry="14.9" fill="#b80f0f" />
<ellipse cx="173.1" cy="537.5" rx="10.6" ry="14.4" fill="#252626" />
<ellipse cx="179.1" cy="589.7" rx="13.0" ry="15.8" fill="none" stroke="#ff8a80" stroke-width="0.8" opacity="0.75"/>
<ellipse cx="177.1" cy="589.7" rx="12.2" ry="15.2" fill="none" stroke="#ff8a80" stroke-width="0.8" opacity="0.75"/>
<ellipse cx="175.1" cy="589.7" rx="11.4" ry="14.6" fill="none" stroke="#ff8a80" stroke-width="0.8" opacity="0.75"/>
<ellipse cx="174.6" cy="589.7" rx="11.6" ry="14.5" fill="#b80f0f" />
<ellipse cx="173.1" cy="589.7" rx="10.6" ry="14.0" fill="#252626" />
<ellipse cx="180.4" cy="641.9" rx="13.0" ry="15.6" fill="none" stroke="#ff8a80" stroke-width="0.8" opacity="0.75"/>
<ellipse cx="178.4" cy="641.9" rx="12.2" ry="14.9" fill="none" stroke="#ff8a80" stroke-width="0.8" opacity="0.75"/>
<ellipse cx="176.4" cy="641.9" rx="11.4" ry="14.3" fill="none" stroke="#ff8a80" stroke-width="0.8" opacity="0.75"/>
<ellipse cx="175.9" cy="641.9" rx="11.6" ry="14.2" fill="#b80f0f" />
<ellipse cx="174.4" cy="641.9" rx="10.6" ry="13.8" fill="#252626" />
<ellipse cx="180.0" cy="700.0" rx="14.6" ry="18.1" fill="none" stroke="#ff8a80" stroke-width="0.8" opacity="0.75"/>
<ellipse cx="178.0" cy="700.0" rx="13.8" ry="17.4" fill="none" stroke="#ff8a80" stroke-width="0.8" opacity="0.75"/>
<ellipse cx="176.0" cy="700.0" rx="13.0" ry="16.9" fill="none" stroke="#ff8a80" stroke-width="0.8" opacity="0.75"/>
<ellipse cx="175.5" cy="700.0" rx="13.2" ry="16.8" fill="#b80f0f" />
<ellipse cx="174.0" cy="700.0" rx="12.2" ry="16.2" fill="#252626" />
<ellipse cx="180.7" cy="760.0" rx="14.6" ry="17.3" fill="none" stroke="#ff8a80" stroke-width="0.8" opacity="0.75"/>
<ellipse cx="178.7" cy="760.0" rx="13.8" ry="16.7" fill="none" stroke="#ff8a80" stroke-width="0.8" opacity="0.75"/>
<ellipse cx="176.7" cy="760.0" rx="13.0" ry="16.1" fill="none" stroke="#ff8a80" stroke-width="0.8" opacity="0.75"/>
<ellipse cx="176.2" cy="760.0" rx="13.2" ry="16.0" fill="#b80f0f" />
<ellipse cx="174.7" cy="760.0" rx="12.2" ry="15.5" fill="#252626" />
<ellipse cx="180.4" cy="825.6" rx="15.5" ry="21.2" fill="none" stroke="#ff8a80" stroke-width="0.8" opacity="0.75"/>
<ellipse cx="178.4" cy="825.6" rx="14.7" ry="20.6" fill="none" stroke="#ff8a80" stroke-width="0.8" opacity="0.75"/>
<ellipse cx="176.4" cy="825.6" rx="13.9" ry="20.0" fill="none" stroke="#ff8a80" stroke-width="0.8" opacity="0.75"/>
<ellipse cx="175.9" cy="825.6" rx="14.1" ry="19.9" fill="#b80f0f" />
<ellipse cx="174.4" cy="825.6" rx="13.1" ry="19.4" fill="#252626" />
<ellipse cx="191.3" cy="899.7" rx="19.0" ry="24.6" fill="none" stroke="#ff8a80" stroke-width="0.8" opacity="0.75"/>
<ellipse cx="189.3" cy="899.7" rx="18.2" ry="24.0" fill="none" stroke="#ff8a80" stroke-width="0.8" opacity="0.75"/>
<ellipse cx="187.3" cy="899.7" rx="17.4" ry="23.4" fill="none" stroke="#ff8a80" stroke-width="0.8" opacity="0.75"/>
<ellipse cx="186.8" cy="899.7" rx="17.6" ry="23.3" fill="#b80f0f" />
<ellipse cx="185.3" cy="899.7" rx="16.6" ry="22.8" fill="#252626" />
<ellipse cx="296.3" cy="132.5" rx="3.0" ry="3.0" fill="#8e0c0c" />
<ellipse cx="297.1" cy="132.5" rx="2.1" ry="2.4" fill="#b51818" />
<path d="M296.3,129.5 A3.0,3.0 0 0 0 296.3,135.5 A1.0,3.0 0 0 1 296.3,129.5 Z" fill="#252626"/>
<ellipse cx="296.3" cy="153.2" rx="3.5" ry="3.5" fill="#8e0c0c" />
<ellipse cx="297.2" cy="153.2" rx="2.4" ry="2.8" fill="#b51818" />
<path d="M296.3,149.7 A3.5,3.5 0 0 0 296.3,156.7 A1.2,3.5 0 0 1 296.3,149.7 Z" fill="#252626"/>
<ellipse cx="295.4" cy="175.7" rx="4.0" ry="4.0" fill="#8e0c0c" />
<ellipse cx="296.4" cy="175.7" rx="2.8" ry="3.2" fill="#b51818" />
<path d="M295.4,171.7 A4.0,4.0 0 0 0 295.4,179.7 A1.4,4.0 0 0 1 295.4,171.7 Z" fill="#252626"/>
<ellipse cx="295.4" cy="197.3" rx="4.5" ry="4.5" fill="#8e0c0c" />
<ellipse cx="296.5" cy="197.3" rx="3.1" ry="3.6" fill="#b51818" />
<path d="M295.4,192.8 A4.5,4.5 0 0 0 295.4,201.8 A1.6,4.5 0 0 1 295.4,192.8 Z" fill="#252626"/>
<ellipse cx="295.4" cy="222.5" rx="5.0" ry="5.0" fill="#8e0c0c" />
<ellipse cx="296.6" cy="222.5" rx="3.5" ry="4.0" fill="#b51818" />
<path d="M295.4,217.5 A5.0,5.0 0 0 0 295.4,227.5 A1.8,5.0 0 0 1 295.4,217.5 Z" fill="#252626"/>
<ellipse cx="294.5" cy="253.0" rx="5.5" ry="5.5" fill="#8e0c0c" />
<ellipse cx="295.9" cy="253.0" rx="3.8" ry="4.4" fill="#b51818" />
<path d="M294.5,247.5 A5.5,5.5 0 0 0 294.5,258.5 A1.9,5.5 0 0 1 294.5,247.5 Z" fill="#252626"/>
<ellipse cx="300.5" cy="284.0" rx="6.9" ry="7.8" fill="none" stroke="#ff8a80" stroke-width="0.8" opacity="0.75"/>
<ellipse cx="298.5" cy="284.0" rx="6.1" ry="7.2" fill="none" stroke="#ff8a80" stroke-width="0.8" opacity="0.75"/>
<ellipse cx="296.5" cy="284.0" rx="5.3" ry="6.6" fill="none" stroke="#ff8a80" stroke-width="0.8" opacity="0.75"/>
<ellipse cx="296.0" cy="284.0" rx="5.5" ry="6.5" fill="#b80f0f" />
<ellipse cx="294.5" cy="284.0" rx="4.5" ry="6.0" fill="#252626" />
<ellipse cx="298.6" cy="319.5" rx="7.8" ry="9.0" fill="none" stroke="#ff8a80" stroke-width="0.8" opacity="0.75"/>
<ellipse cx="296.6" cy="319.5" rx="7.0" ry="8.4" fill="none" stroke="#ff8a80" stroke-width="0.8" opacity="0.75"/>
<ellipse cx="294.6" cy="319.5" rx="6.2" ry="7.8" fill="none" stroke="#ff8a80" stroke-width="0.8" opacity="0.75"/>
<ellipse cx="294.1" cy="319.5" rx="6.4" ry="7.7" fill="#b80f0f" />
<ellipse cx="292.6" cy="319.5" rx="5.4" ry="7.2" fill="#252626" />
<ellipse cx="298.6" cy="355.4" rx="7.8" ry="9.0" fill="none" stroke="#ff8a80" stroke-width="0.8" opacity="0.75"/>
<ellipse cx="296.6" cy="355.4" rx="7.0" ry="8.4" fill="none" stroke="#ff8a80" stroke-width="0.8" opacity="0.75"/>
<ellipse cx="294.6" cy="355.4" rx="6.2" ry="7.8" fill="none" stroke="#ff8a80" stroke-width="0.8" opacity="0.75"/>
<ellipse cx="294.1" cy="355.4" rx="6.4" ry="7.7" fill="#b80f0f" />
<ellipse cx="292.6" cy="355.4" rx="5.4" ry="7.2" fill="#252626" />
<ellipse cx="296.5" cy="396.4" rx="9.2" ry="11.3" fill="none" stroke="#ff8a80" stroke-width="0.8" opacity="0.75"/>
<ellipse cx="294.5" cy="396.4" rx="8.3" ry="10.7" fill="none" stroke="#ff8a80" stroke-width="0.8" opacity="0.75"/>
<ellipse cx="292.5" cy="396.4" rx="7.5" ry="10.1" fill="none" stroke="#ff8a80" stroke-width="0.8" opacity="0.75"/>
<ellipse cx="292.0" cy="396.4" rx="7.8" ry="10.0" fill="#b80f0f" />
<ellipse cx="290.5" cy="396.4" rx="6.8" ry="9.5" fill="#252626" />
<ellipse cx="294.0" cy="441.0" rx="9.4" ry="11.8" fill="none" stroke="#ff8a80" stroke-width="0.8" opacity="0.75"/>
<ellipse cx="292.0" cy="441.0" rx="8.6" ry="11.2" fill="none" stroke="#ff8a80" stroke-width="0.8" opacity="0.75"/>
<ellipse cx="290.0" cy="441.0" rx="7.8" ry="10.6" fill="none" stroke="#ff8a80" stroke-width="0.8" opacity="0.75"/>
<ellipse cx="289.5" cy="441.0" rx="8.0" ry="10.5" fill="#b80f0f" />
<ellipse cx="288.0" cy="441.0" rx="7.0" ry="10.0" fill="#252626" />
<ellipse cx="292.4" cy="483.6" rx="9.6" ry="12.2" fill="none" stroke="#ff8a80" stroke-width="0.8" opacity="0.75"/>
<ellipse cx="290.4" cy="483.6" rx="8.8" ry="11.6" fill="none" stroke="#ff8a80" stroke-width="0.8" opacity="0.75"/>
<ellipse cx="288.4" cy="483.6" rx="8.0" ry="11.0" fill="none" stroke="#ff8a80" stroke-width="0.8" opacity="0.75"/>
<ellipse cx="287.9" cy="483.6" rx="8.2" ry="10.9" fill="#b80f0f" />
<ellipse cx="286.4" cy="483.6" rx="7.2" ry="10.4" fill="#252626" />
<ellipse cx="292.4" cy="531.8" rx="9.6" ry="12.6" fill="none" stroke="#ff8a80" stroke-width="0.8" opacity="0.75"/>
<ellipse cx="290.4" cy="531.8" rx="8.8" ry="12.0" fill="none" stroke="#ff8a80" stroke-width="0.8" opacity="0.75"/>
<ellipse cx="288.4" cy="531.8" rx="8.0" ry="11.4" fill="none" stroke="#ff8a80" stroke-width="0.8" opacity="0.75"/>
<ellipse cx="287.9" cy="531.8" rx="8.2" ry="11.3" fill="#b80f0f" />
<ellipse cx="286.4" cy="531.8" rx="7.2" ry="10.8" fill="#252626" />
<ellipse cx="291.0" cy="583.0" rx="10.9" ry="15.3" fill="none" stroke="#ff8a80" stroke-width="0.8" opacity="0.75"/>
<ellipse cx="289.0" cy="583.0" rx="10.1" ry="14.7" fill="none" stroke="#ff8a80" stroke-width="0.8" opacity="0.75"/>
<ellipse cx="287.0" cy="583.0" rx="9.3" ry="14.1" fill="none" stroke="#ff8a80" stroke-width="0.8" opacity="0.75"/>
<ellipse cx="286.5" cy="583.0" rx="9.5" ry="14.0" fill="#b80f0f" />
<ellipse cx="285.0" cy="583.0" rx="8.5" ry="13.5" fill="#252626" />
<ellipse cx="290.0" cy="633.0" rx="11.9" ry="13.0" fill="none" stroke="#ff8a80" stroke-width="0.8" opacity="0.75"/>
<ellipse cx="288.0" cy="633.0" rx="11.1" ry="12.4" fill="none" stroke="#ff8a80" stroke-width="0.8" opacity="0.75"/>
<ellipse cx="286.0" cy="633.0" rx="10.3" ry="11.8" fill="none" stroke="#ff8a80" stroke-width="0.8" opacity="0.75"/>
<ellipse cx="285.5" cy="633.0" rx="10.5" ry="11.7" fill="#b80f0f" />
<ellipse cx="284.0" cy="633.0" rx="9.5" ry="11.2" fill="#252626" />
<ellipse cx="288.4" cy="689.7" rx="12.8" ry="14.8" fill="none" stroke="#ff8a80" stroke-width="0.8" opacity="0.75"/>
<ellipse cx="286.4" cy="689.7" rx="12.0" ry="14.2" fill="none" stroke="#ff8a80" stroke-width="0.8" opacity="0.75"/>
<ellipse cx="284.4" cy="689.7" rx="11.2" ry="13.6" fill="none" stroke="#ff8a80" stroke-width="0.8" opacity="0.75"/>
<ellipse cx="283.9" cy="689.7" rx="11.4" ry="13.5" fill="#b80f0f" />
<ellipse cx="282.4" cy="689.7" rx="10.4" ry="13.0" fill="#252626" />
<ellipse cx="288.0" cy="748.5" rx="13.2" ry="15.3" fill="none" stroke="#ff8a80" stroke-width="0.8" opacity="0.75"/>
<ellipse cx="286.0" cy="748.5" rx="12.4" ry="14.7" fill="none" stroke="#ff8a80" stroke-width="0.8" opacity="0.75"/>
<ellipse cx="284.0" cy="748.5" rx="11.6" ry="14.1" fill="none" stroke="#ff8a80" stroke-width="0.8" opacity="0.75"/>
<ellipse cx="283.5" cy="748.5" rx="11.8" ry="14.0" fill="#b80f0f" />
<ellipse cx="282.0" cy="748.5" rx="10.8" ry="13.5" fill="#252626" />
<ellipse cx="284.7" cy="812.0" rx="19.1" ry="25.8" fill="none" stroke="#ff8a80" stroke-width="0.8" opacity="0.75"/>
<ellipse cx="282.7" cy="812.0" rx="18.3" ry="25.2" fill="none" stroke="#ff8a80" stroke-width="0.8" opacity="0.75"/>
<ellipse cx="280.7" cy="812.0" rx="17.5" ry="24.6" fill="none" stroke="#ff8a80" stroke-width="0.8" opacity="0.75"/>
<ellipse cx="280.2" cy="812.0" rx="17.7" ry="24.5" fill="#b80f0f" />
<ellipse cx="278.7" cy="812.0" rx="16.7" ry="24.0" fill="#252626" />
<ellipse cx="287.5" cy="886.0" rx="14.4" ry="19.8" fill="none" stroke="#ff8a80" stroke-width="0.8" opacity="0.75"/>
<ellipse cx="285.5" cy="886.0" rx="13.6" ry="19.2" fill="none" stroke="#ff8a80" stroke-width="0.8" opacity="0.75"/>
<ellipse cx="283.5" cy="886.0" rx="12.8" ry="18.6" fill="none" stroke="#ff8a80" stroke-width="0.8" opacity="0.75"/>
<ellipse cx="283.0" cy="886.0" rx="13.0" ry="18.5" fill="#b80f0f" />
<ellipse cx="281.5" cy="886.0" rx="12.0" ry="18.0" fill="#252626" />
<rect x="114.2" y="121.7" width="25.2" height="5.4" rx="2.7" fill="url(#rod)" stroke="#8a8a8a" stroke-width="0.5"/>
<ellipse cx="137.3" cy="124.4" rx="2.1" ry="2.6" fill="url(#face)" stroke="#9a9a9a" stroke-width="0.6"/>
<rect x="113.3" y="143.4" width="27.0" height="8.0" rx="4.0" fill="url(#rod)" stroke="#8a8a8a" stroke-width="0.5"/>
<ellipse cx="137.2" cy="147.4" rx="3.1" ry="3.8" fill="url(#face)" stroke="#9a9a9a" stroke-width="0.6"/>
<rect x="113.3" y="165.7" width="27.0" height="10.0" rx="5.0" fill="url(#rod)" stroke="#8a8a8a" stroke-width="0.5"/>
<ellipse cx="136.4" cy="170.7" rx="3.9" ry="4.8" fill="url(#face)" stroke="#9a9a9a" stroke-width="0.6"/>
<rect x="111.5" y="189.2" width="29.7" height="11.7" rx="5.8" fill="url(#rod)" stroke="#8a8a8a" stroke-width="0.5"/>
<path d="M116.2,190.0 Q118.2,195.0 116.2,200.0" fill="none" stroke="#7a7a7a" stroke-width="0.6" opacity="0.6"/>
<path d="M118.2,190.0 Q120.2,195.0 118.2,200.0" fill="none" stroke="#7a7a7a" stroke-width="0.6" opacity="0.6"/>
<path d="M120.2,190.0 Q122.2,195.0 120.2,200.0" fill="none" stroke="#7a7a7a" stroke-width="0.6" opacity="0.6"/>
<path d="M122.2,190.0 Q124.2,195.0 122.2,200.0" fill="none" stroke="#7a7a7a" stroke-width="0.6" opacity="0.6"/>
<path d="M124.2,190.0 Q126.2,195.0 124.2,200.0" fill="none" stroke="#7a7a7a" stroke-width="0.6" opacity="0.6"/>
<path d="M126.2,190.0 Q128.2,195.0 126.2,200.0" fill="none" stroke="#7a7a7a" stroke-width="0.6" opacity="0.6"/>
<path d="M128.2,190.0 Q130.2,195.0 128.2,200.0" fill="none" stroke="#7a7a7a" stroke-width="0.6" opacity="0.6"/>
<path d="M130.2,190.0 Q132.2,195.0 130.2,200.0" fill="none" stroke="#7a7a7a" stroke-width="0.6" opacity="0.6"/>
<path d="M132.2,190.0 Q134.2,195.0 132.2,200.0" fill="none" stroke="#7a7a7a" stroke-width="0.6" opacity="0.6"/>
<ellipse cx="136.6" cy="195.0" rx="4.6" ry="5.6" fill="url(#face)" stroke="#9a9a9a" stroke-width="0.6"/>
<rect x="110.6" y="213.3" width="32.4" height="15.3" rx="7.7" fill="url(#rod)" stroke="#8a8a8a" stroke-width="0.5"/>
<path d="M116.7,214.2 Q119.4,221.0 116.7,227.8" fill="none" stroke="#7a7a7a" stroke-width="0.6" opacity="0.6"/>
<path d="M119.1,214.2 Q121.8,221.0 119.1,227.8" fill="none" stroke="#7a7a7a" stroke-width="0.6" opacity="0.6"/>
<path d="M121.5,214.2 Q124.2,221.0 121.5,227.8" fill="none" stroke="#7a7a7a" stroke-width="0.6" opacity="0.6"/>
<path d="M123.9,214.2 Q126.6,221.0 123.9,227.8" fill="none" stroke="#7a7a7a" stroke-width="0.6" opacity="0.6"/>
<path d="M126.3,214.2 Q129.0,221.0 126.3,227.8" fill="none" stroke="#7a7a7a" stroke-width="0.6" opacity="0.6"/>
<path d="M128.7,214.2 Q131.4,221.0 128.7,227.8" fill="none" stroke="#7a7a7a" stroke-width="0.6" opacity="0.6"/>
<path d="M131.1,214.2 Q133.8,221.0 131.1,227.8" fill="none" stroke="#7a7a7a" stroke-width="0.6" opacity="0.6"/>
<ellipse cx="137.0" cy="221.0" rx="6.0" ry="7.3" fill="url(#face)" stroke="#9a9a9a" stroke-width="0.6"/>
<rect x="109.7" y="243.2" width="33.3" height="16.2" rx="8.1" fill="url(#rod)" stroke="#8a8a8a" stroke-width="0.5"/>
<path d="M116.2,244.0 Q119.0,251.3 116.2,258.6" fill="none" stroke="#7a7a7a" stroke-width="0.6" opacity="0.6"/>
<path d="M118.6,244.0 Q121.4,251.3 118.6,258.6" fill="none" stroke="#7a7a7a" stroke-width="0.6" opacity="0.6"/>
<path d="M121.0,244.0 Q123.8,251.3 121.0,258.6" fill="none" stroke="#7a7a7a" stroke-width="0.6" opacity="0.6"/>
<path d="M123.4,244.0 Q126.2,251.3 123.4,258.6" fill="none" stroke="#7a7a7a" stroke-width="0.6" opacity="0.6"/>
<path d="M125.8,244.0 Q128.6,251.3 125.8,258.6" fill="none" stroke="#7a7a7a" stroke-width="0.6" opacity="0.6"/>
<path d="M128.2,244.0 Q131.0,251.3 128.2,258.6" fill="none" stroke="#7a7a7a" stroke-width="0.6" opacity="0.6"/>
<path d="M130.6,244.0 Q133.4,251.3 130.6,258.6" fill="none" stroke="#7a7a7a" stroke-width="0.6" opacity="0.6"/>
<ellipse cx="136.7" cy="251.3" rx="6.3" ry="7.8" fill="url(#face)" stroke="#9a9a9a" stroke-width="0.6"/>
<rect x="109.7" y="275.0" width="35.1" height="16.0" rx="8.0" fill="url(#rod)" stroke="#8a8a8a" stroke-width="0.5"/>
<path d="M116.1,275.8 Q118.9,283.0 116.1,290.2" fill="none" stroke="#7a7a7a" stroke-width="0.6" opacity="0.6"/>
<path d="M118.5,275.8 Q121.3,283.0 118.5,290.2" fill="none" stroke="#7a7a7a" stroke-width="0.6" opacity="0.6"/>
<path d="M120.9,275.8 Q123.7,283.0 120.9,290.2" fill="none" stroke="#7a7a7a" stroke-width="0.6" opacity="0.6"/>
<path d="M123.3,275.8 Q126.1,283.0 123.3,290.2" fill="none" stroke="#7a7a7a" stroke-width="0.6" opacity="0.6"/>
<path d="M125.7,275.8 Q128.5,283.0 125.7,290.2" fill="none" stroke="#7a7a7a" stroke-width="0.6" opacity="0.6"/>
<path d="M128.1,275.8 Q130.9,283.0 128.1,290.2" fill="none" stroke="#7a7a7a" stroke-width="0.6" opacity="0.6"/>
<path d="M130.5,275.8 Q133.3,283.0 130.5,290.2" fill="none" stroke="#7a7a7a" stroke-width="0.6" opacity="0.6"/>
<path d="M132.9,275.8 Q135.7,283.0 132.9,290.2" fill="none" stroke="#7a7a7a" stroke-width="0.6" opacity="0.6"/>
<ellipse cx="138.6" cy="283.0" rx="6.2" ry="7.7" fill="url(#face)" stroke="#9a9a9a" stroke-width="0.6"/>
<ellipse cx="117.7" cy="319.4" rx="7.7" ry="9.5" fill="#ebebeb" stroke="#404040" stroke-width="0.7"/>
<ellipse cx="120.9" cy="319.8" rx="7.7" ry="9.5" fill="#ebebeb" stroke="#404040" stroke-width="0.7"/>
<ellipse cx="124.0" cy="320.1" rx="7.7" ry="9.5" fill="#ebebeb" stroke="#404040" stroke-width="0.7"/>
<ellipse cx="127.2" cy="320.4" rx="7.7" ry="9.5" fill="#ebebeb" stroke="#404040" stroke-width="0.7"/>
<ellipse cx="130.3" cy="320.6" rx="7.7" ry="9.5" fill="#ebebeb" stroke="#404040" stroke-width="0.7"/>
<ellipse cx="133.5" cy="320.9" rx="7.7" ry="9.5" fill="#ebebeb" stroke="#404040" stroke-width="0.7"/>
<ellipse cx="136.6" cy="321.2" rx="7.7" ry="9.5" fill="#ebebeb" stroke="#404040" stroke-width="0.7"/>
<ellipse cx="139.8" cy="321.6" rx="7.7" ry="9.5" fill="url(#face)" stroke="#9c9c9c" stroke-width="0.9"/>
<ellipse cx="116.6" cy="357.5" rx="8.1" ry="9.9" fill="#ebebeb" stroke="#404040" stroke-width="0.7"/>
<ellipse cx="119.5" cy="357.8" rx="8.1" ry="9.9" fill="#ebebeb" stroke="#404040" stroke-width="0.7"/>
<ellipse cx="122.3" cy="358.1" rx="8.1" ry="9.9" fill="#ebebeb" stroke="#404040" stroke-width="0.7"/>
<ellipse cx="125.2" cy="358.3" rx="8.1" ry="9.9" fill="#ebebeb" stroke="#404040" stroke-width="0.7"/>
<ellipse cx="128.0" cy="358.6" rx="8.1" ry="9.9" fill="#ebebeb" stroke="#404040" stroke-width="0.7"/>
<ellipse cx="130.8" cy="358.9" rx="8.1" ry="9.9" fill="#ebebeb" stroke="#404040" stroke-width="0.7"/>
<ellipse cx="133.7" cy="359.2" rx="8.1" ry="9.9" fill="#ebebeb" stroke="#404040" stroke-width="0.7"/>
<ellipse cx="136.5" cy="359.4" rx="8.1" ry="9.9" fill="#ebebeb" stroke="#404040" stroke-width="0.7"/>
<ellipse cx="139.4" cy="359.7" rx="8.1" ry="9.9" fill="url(#face)" stroke="#9c9c9c" stroke-width="0.9"/>
<ellipse cx="120.0" cy="400.1" rx="10.0" ry="12.2" fill="#ebebeb" stroke="#404040" stroke-width="0.7"/>
<ellipse cx="122.9" cy="400.5" rx="10.0" ry="12.2" fill="#ebebeb" stroke="#404040" stroke-width="0.7"/>
<ellipse cx="125.9" cy="400.8" rx="10.0" ry="12.2" fill="#ebebeb" stroke="#404040" stroke-width="0.7"/>
<ellipse cx="128.8" cy="401.2" rx="10.0" ry="12.2" fill="#ebebeb" stroke="#404040" stroke-width="0.7"/>
<ellipse cx="131.8" cy="401.5" rx="10.0" ry="12.2" fill="#ebebeb" stroke="#404040" stroke-width="0.7"/>
<ellipse cx="134.7" cy="401.8" rx="10.0" ry="12.2" fill="#ebebeb" stroke="#404040" stroke-width="0.7"/>
<ellipse cx="137.6" cy="402.2" rx="10.0" ry="12.2" fill="#ebebeb" stroke="#404040" stroke-width="0.7"/>
<ellipse cx="140.6" cy="402.5" rx="10.0" ry="12.2" fill="#ebebeb" stroke="#404040" stroke-width="0.7"/>
<ellipse cx="143.5" cy="402.9" rx="10.0" ry="12.2" fill="url(#face)" stroke="#9c9c9c" stroke-width="0.9"/>
<ellipse cx="120.0" cy="442.1" rx="10.0" ry="12.2" fill="#ebebeb" stroke="#404040" stroke-width="0.7"/>
<ellipse cx="122.9" cy="442.5" rx="10.0" ry="12.2" fill="#ebebeb" stroke="#404040" stroke-width="0.7"/>
<ellipse cx="125.9" cy="442.8" rx="10.0" ry="12.2" fill="#ebebeb" stroke="#404040" stroke-width="0.7"/>
<ellipse cx="128.8" cy="443.2" rx="10.0" ry="12.2" fill="#ebebeb" stroke="#404040" stroke-width="0.7"/>
<ellipse cx="131.8" cy="443.5" rx="10.0" ry="12.2" fill="#ebebeb" stroke="#404040" stroke-width="0.7"/>
<ellipse cx="134.7" cy="443.8" rx="10.0" ry="12.2" fill="#ebebeb" stroke="#404040" stroke-width="0.7"/>
<ellipse cx="137.6" cy="444.2" rx="10.0" ry="12.2" fill="#ebebeb" stroke="#404040" stroke-width="0.7"/>
<ellipse cx="140.6" cy="444.5" rx="10.0" ry="12.2" fill="#ebebeb" stroke="#404040" stroke-width="0.7"/>
<ellipse cx="143.5" cy="444.9" rx="10.0" ry="12.2" fill="url(#face)" stroke="#9c9c9c" stroke-width="0.9"/>
<ellipse cx="120.0" cy="490.6" rx="10.0" ry="12.2" fill="#ebebeb" stroke="#404040" stroke-width="0.7"/>
<ellipse cx="123.1" cy="491.0" rx="10.0" ry="12.2" fill="#ebebeb" stroke="#404040" stroke-width="0.7"/>
<ellipse cx="126.3" cy="491.4" rx="10.0" ry="12.2" fill="#ebebeb" stroke="#404040" stroke-width="0.7"/>
<ellipse cx="129.4" cy="491.8" rx="10.0" ry="12.2" fill="#ebebeb" stroke="#404040" stroke-width="0.7"/>
<ellipse cx="132.6" cy="492.2" rx="10.0" ry="12.2" fill="#ebebeb" stroke="#404040" stroke-width="0.7"/>
<ellipse cx="135.7" cy="492.6" rx="10.0" ry="12.2" fill="#ebebeb" stroke="#404040" stroke-width="0.7"/>
<ellipse cx="138.9" cy="493.0" rx="10.0" ry="12.2" fill="#ebebeb" stroke="#404040" stroke-width="0.7"/>
<ellipse cx="142.0" cy="493.4" rx="10.0" ry="12.2" fill="url(#face)" stroke="#9c9c9c" stroke-width="0.9"/>
<ellipse cx="122.4" cy="540.1" rx="12.7" ry="15.5" fill="#ebebeb" stroke="#404040" stroke-width="0.7"/>
<ellipse cx="125.8" cy="540.6" rx="12.7" ry="15.5" fill="#ebebeb" stroke="#404040" stroke-width="0.7"/>
<ellipse cx="129.1" cy="541.1" rx="12.7" ry="15.5" fill="#ebebeb" stroke="#404040" stroke-width="0.7"/>
<ellipse cx="132.4" cy="541.6" rx="12.7" ry="15.5" fill="#ebebeb" stroke="#404040" stroke-width="0.7"/>
<ellipse cx="135.8" cy="542.0" rx="12.7" ry="15.5" fill="#ebebeb" stroke="#404040" stroke-width="0.7"/>
<ellipse cx="139.1" cy="542.5" rx="12.7" ry="15.5" fill="#ebebeb" stroke="#404040" stroke-width="0.7"/>
<ellipse cx="142.4" cy="543.0" rx="12.7" ry="15.5" fill="#ebebeb" stroke="#404040" stroke-width="0.7"/>
<ellipse cx="145.8" cy="543.5" rx="12.7" ry="15.5" fill="url(#face)" stroke="#9c9c9c" stroke-width="0.9"/>
<ellipse cx="122.4" cy="593.3" rx="12.7" ry="15.5" fill="#ebebeb" stroke="#404040" stroke-width="0.7"/>
<ellipse cx="125.8" cy="593.8" rx="12.7" ry="15.5" fill="#ebebeb" stroke="#404040" stroke-width="0.7"/>
<ellipse cx="129.2" cy="594.3" rx="12.7" ry="15.5" fill="#ebebeb" stroke="#404040" stroke-width="0.7"/>
<ellipse cx="132.6" cy="594.8" rx="12.7" ry="15.5" fill="#ebebeb" stroke="#404040" stroke-width="0.7"/>
<ellipse cx="136.1" cy="595.2" rx="12.7" ry="15.5" fill="#ebebeb" stroke="#404040" stroke-width="0.7"/>
<ellipse cx="139.5" cy="595.7" rx="12.7" ry="15.5" fill="#ebebeb" stroke="#404040" stroke-width="0.7"/>
<ellipse cx="142.9" cy="596.2" rx="12.7" ry="15.5" fill="#ebebeb" stroke="#404040" stroke-width="0.7"/>
<ellipse cx="146.3" cy="596.7" rx="12.7" ry="15.5" fill="url(#face)" stroke="#9c9c9c" stroke-width="0.9"/>
<ellipse cx="122.8" cy="646.2" rx="12.9" ry="15.8" fill="#ebebeb" stroke="#404040" stroke-width="0.7"/>
<ellipse cx="126.5" cy="646.8" rx="12.9" ry="15.8" fill="#ebebeb" stroke="#404040" stroke-width="0.7"/>
<ellipse cx="130.1" cy="647.4" rx="12.9" ry="15.8" fill="#ebebeb" stroke="#404040" stroke-width="0.7"/>
<ellipse cx="133.8" cy="648.0" rx="12.9" ry="15.8" fill="#ebebeb" stroke="#404040" stroke-width="0.7"/>
<ellipse cx="137.4" cy="648.6" rx="12.9" ry="15.8" fill="#ebebeb" stroke="#404040" stroke-width="0.7"/>
<ellipse cx="141.0" cy="649.2" rx="12.9" ry="15.8" fill="#ebebeb" stroke="#404040" stroke-width="0.7"/>
<ellipse cx="144.7" cy="649.8" rx="12.9" ry="15.8" fill="url(#face)" stroke="#9c9c9c" stroke-width="0.9"/>
<ellipse cx="125.3" cy="705.9" rx="15.3" ry="18.6" fill="#ebebeb" stroke="#404040" stroke-width="0.7"/>
<ellipse cx="128.9" cy="706.6" rx="15.3" ry="18.6" fill="#ebebeb" stroke="#404040" stroke-width="0.7"/>
<ellipse cx="132.4" cy="707.3" rx="15.3" ry="18.6" fill="#ebebeb" stroke="#404040" stroke-width="0.7"/>
<ellipse cx="136.0" cy="708.0" rx="15.3" ry="18.6" fill="#ebebeb" stroke="#404040" stroke-width="0.7"/>
<ellipse cx="139.6" cy="708.7" rx="15.3" ry="18.6" fill="#ebebeb" stroke="#404040" stroke-width="0.7"/>
<ellipse cx="143.1" cy="709.4" rx="15.3" ry="18.6" fill="#ebebeb" stroke="#404040" stroke-width="0.7"/>
<ellipse cx="146.7" cy="710.1" rx="15.3" ry="18.6" fill="url(#face)" stroke="#9c9c9c" stroke-width="0.9"/>
<ellipse cx="124.5" cy="766.9" rx="15.5" ry="18.9" fill="#ebebeb" stroke="#404040" stroke-width="0.7"/>
<ellipse cx="128.0" cy="767.6" rx="15.5" ry="18.9" fill="#ebebeb" stroke="#404040" stroke-width="0.7"/>
<ellipse cx="131.5" cy="768.3" rx="15.5" ry="18.9" fill="#ebebeb" stroke="#404040" stroke-width="0.7"/>
<ellipse cx="135.0" cy="769.0" rx="15.5" ry="18.9" fill="#ebebeb" stroke="#404040" stroke-width="0.7"/>
<ellipse cx="138.5" cy="769.7" rx="15.5" ry="18.9" fill="#ebebeb" stroke="#404040" stroke-width="0.7"/>
<ellipse cx="142.0" cy="770.4" rx="15.5" ry="18.9" fill="#ebebeb" stroke="#404040" stroke-width="0.7"/>
<ellipse cx="145.5" cy="771.1" rx="15.5" ry="18.9" fill="url(#face)" stroke="#9c9c9c" stroke-width="0.9"/>
<ellipse cx="126.9" cy="832.6" rx="17.9" ry="21.9" fill="#ebebeb" stroke="#404040" stroke-width="0.7"/>
<ellipse cx="130.3" cy="833.3" rx="17.9" ry="21.9" fill="#ebebeb" stroke="#404040" stroke-width="0.7"/>
<ellipse cx="133.7" cy="834.0" rx="17.9" ry="21.9" fill="#ebebeb" stroke="#404040" stroke-width="0.7"/>
<ellipse cx="137.0" cy="834.7" rx="17.9" ry="21.9" fill="#ebebeb" stroke="#404040" stroke-width="0.7"/>
<ellipse cx="140.4" cy="835.3" rx="17.9" ry="21.9" fill="#ebebeb" stroke="#404040" stroke-width="0.7"/>
<ellipse cx="143.7" cy="836.0" rx="17.9" ry="21.9" fill="#ebebeb" stroke="#404040" stroke-width="0.7"/>
<ellipse cx="147.1" cy="836.7" rx="17.9" ry="21.9" fill="#ebebeb" stroke="#404040" stroke-width="0.7"/>
<ellipse cx="150.5" cy="837.4" rx="17.9" ry="21.9" fill="url(#face)" stroke="#9c9c9c" stroke-width="0.9"/>
<ellipse cx="128.5" cy="909.2" rx="20.5" ry="25.0" fill="#ebebeb" stroke="#404040" stroke-width="0.7"/>
<ellipse cx="131.9" cy="910.0" rx="20.5" ry="25.0" fill="#ebebeb" stroke="#404040" stroke-width="0.7"/>
<ellipse cx="135.4" cy="910.8" rx="20.5" ry="25.0" fill="#ebebeb" stroke="#404040" stroke-width="0.7"/>
<ellipse cx="138.8" cy="911.6" rx="20.5" ry="25.0" fill="#ebebeb" stroke="#404040" stroke-width="0.7"/>
<ellipse cx="142.2" cy="912.4" rx="20.5" ry="25.0" fill="#ebebeb" stroke="#404040" stroke-width="0.7"/>
<ellipse cx="145.6" cy="913.2" rx="20.5" ry="25.0" fill="#ebebeb" stroke="#404040" stroke-width="0.7"/>
<ellipse cx="149.1" cy="914.0" rx="20.5" ry="25.0" fill="#ebebeb" stroke="#404040" stroke-width="0.7"/>
<ellipse cx="152.5" cy="914.8" rx="20.5" ry="25.0" fill="url(#face)" stroke="#9c9c9c" stroke-width="0.9"/>
<rect x="241.4" y="127.1" width="24.3" height="5.5" rx="2.8" fill="url(#rod)" stroke="#8a8a8a" stroke-width="0.5"/>
<ellipse cx="263.6" cy="129.8" rx="2.1" ry="2.6" fill="url(#face)" stroke="#9a9a9a" stroke-width="0.6"/>
<rect x="240.5" y="146.9" width="26.1" height="9.0" rx="4.5" fill="url(#rod)" stroke="#8a8a8a" stroke-width="0.5"/>
<ellipse cx="263.1" cy="151.4" rx="3.5" ry="4.3" fill="url(#face)" stroke="#9a9a9a" stroke-width="0.6"/>
<rect x="238.7" y="168.4" width="28.8" height="11.0" rx="5.5" fill="url(#rod)" stroke="#8a8a8a" stroke-width="0.5"/>
<path d="M243.1,169.2 Q245.0,173.9 243.1,178.6" fill="none" stroke="#7a7a7a" stroke-width="0.6" opacity="0.6"/>
<path d="M245.1,169.2 Q247.0,173.9 245.1,178.6" fill="none" stroke="#7a7a7a" stroke-width="0.6" opacity="0.6"/>
<path d="M247.1,169.2 Q249.0,173.9 247.1,178.6" fill="none" stroke="#7a7a7a" stroke-width="0.6" opacity="0.6"/>
<path d="M249.1,169.2 Q251.0,173.9 249.1,178.6" fill="none" stroke="#7a7a7a" stroke-width="0.6" opacity="0.6"/>
<path d="M251.1,169.2 Q253.0,173.9 251.1,178.6" fill="none" stroke="#7a7a7a" stroke-width="0.6" opacity="0.6"/>
<path d="M253.1,169.2 Q255.0,173.9 253.1,178.6" fill="none" stroke="#7a7a7a" stroke-width="0.6" opacity="0.6"/>
<path d="M255.1,169.2 Q257.0,173.9 255.1,178.6" fill="none" stroke="#7a7a7a" stroke-width="0.6" opacity="0.6"/>
<path d="M257.1,169.2 Q259.0,173.9 257.1,178.6" fill="none" stroke="#7a7a7a" stroke-width="0.6" opacity="0.6"/>
<path d="M259.1,169.2 Q261.0,173.9 259.1,178.6" fill="none" stroke="#7a7a7a" stroke-width="0.6" opacity="0.6"/>
<ellipse cx="263.2" cy="173.9" rx="4.3" ry="5.3" fill="url(#face)" stroke="#9a9a9a" stroke-width="0.6"/>
<rect x="238.7" y="191.8" width="28.8" height="11.0" rx="5.5" fill="url(#rod)" stroke="#8a8a8a" stroke-width="0.5"/>
<path d="M243.1,192.6 Q245.0,197.3 243.1,202.0" fill="none" stroke="#7a7a7a" stroke-width="0.6" opacity="0.6"/>
<path d="M245.1,192.6 Q247.0,197.3 245.1,202.0" fill="none" stroke="#7a7a7a" stroke-width="0.6" opacity="0.6"/>
<path d="M247.1,192.6 Q249.0,197.3 247.1,202.0" fill="none" stroke="#7a7a7a" stroke-width="0.6" opacity="0.6"/>
<path d="M249.1,192.6 Q251.0,197.3 249.1,202.0" fill="none" stroke="#7a7a7a" stroke-width="0.6" opacity="0.6"/>
<path d="M251.1,192.6 Q253.0,197.3 251.1,202.0" fill="none" stroke="#7a7a7a" stroke-width="0.6" opacity="0.6"/>
<path d="M253.1,192.6 Q255.0,197.3 253.1,202.0" fill="none" stroke="#7a7a7a" stroke-width="0.6" opacity="0.6"/>
<path d="M255.1,192.6 Q257.0,197.3 255.1,202.0" fill="none" stroke="#7a7a7a" stroke-width="0.6" opacity="0.6"/>
<path d="M257.1,192.6 Q259.0,197.3 257.1,202.0" fill="none" stroke="#7a7a7a" stroke-width="0.6" opacity="0.6"/>
<path d="M259.1,192.6 Q261.0,197.3 259.1,202.0" fill="none" stroke="#7a7a7a" stroke-width="0.6" opacity="0.6"/>
<ellipse cx="263.2" cy="197.3" rx="4.3" ry="5.3" fill="url(#face)" stroke="#9a9a9a" stroke-width="0.6"/>
<rect x="237.8" y="217.1" width="30.6" height="12.6" rx="6.3" fill="url(#rod)" stroke="#8a8a8a" stroke-width="0.5"/>
<path d="M242.8,217.9 Q245.0,223.4 242.8,228.9" fill="none" stroke="#7a7a7a" stroke-width="0.6" opacity="0.6"/>
<path d="M244.8,217.9 Q247.0,223.4 244.8,228.9" fill="none" stroke="#7a7a7a" stroke-width="0.6" opacity="0.6"/>
<path d="M246.8,217.9 Q249.0,223.4 246.8,228.9" fill="none" stroke="#7a7a7a" stroke-width="0.6" opacity="0.6"/>
<path d="M248.8,217.9 Q251.0,223.4 248.8,228.9" fill="none" stroke="#7a7a7a" stroke-width="0.6" opacity="0.6"/>
<path d="M250.8,217.9 Q253.0,223.4 250.8,228.9" fill="none" stroke="#7a7a7a" stroke-width="0.6" opacity="0.6"/>
<path d="M252.8,217.9 Q255.0,223.4 252.8,228.9" fill="none" stroke="#7a7a7a" stroke-width="0.6" opacity="0.6"/>
<path d="M254.8,217.9 Q257.0,223.4 254.8,228.9" fill="none" stroke="#7a7a7a" stroke-width="0.6" opacity="0.6"/>
<path d="M256.8,217.9 Q259.0,223.4 256.8,228.9" fill="none" stroke="#7a7a7a" stroke-width="0.6" opacity="0.6"/>
<path d="M258.8,217.9 Q261.0,223.4 258.8,228.9" fill="none" stroke="#7a7a7a" stroke-width="0.6" opacity="0.6"/>
<ellipse cx="263.5" cy="223.4" rx="4.9" ry="6.0" fill="url(#face)" stroke="#9a9a9a" stroke-width="0.6"/>
<rect x="236.9" y="246.7" width="31.5" height="12.6" rx="6.3" fill="url(#rod)" stroke="#8a8a8a" stroke-width="0.5"/>
<path d="M241.9,247.5 Q244.1,253.0 241.9,258.5" fill="none" stroke="#7a7a7a" stroke-width="0.6" opacity="0.6"/>
<path d="M243.9,247.5 Q246.1,253.0 243.9,258.5" fill="none" stroke="#7a7a7a" stroke-width="0.6" opacity="0.6"/>
<path d="M245.9,247.5 Q248.1,253.0 245.9,258.5" fill="none" stroke="#7a7a7a" stroke-width="0.6" opacity="0.6"/>
<path d="M247.9,247.5 Q250.1,253.0 247.9,258.5" fill="none" stroke="#7a7a7a" stroke-width="0.6" opacity="0.6"/>
<path d="M249.9,247.5 Q252.1,253.0 249.9,258.5" fill="none" stroke="#7a7a7a" stroke-width="0.6" opacity="0.6"/>
<path d="M251.9,247.5 Q254.1,253.0 251.9,258.5" fill="none" stroke="#7a7a7a" stroke-width="0.6" opacity="0.6"/>
<path d="M253.9,247.5 Q256.1,253.0 253.9,258.5" fill="none" stroke="#7a7a7a" stroke-width="0.6" opacity="0.6"/>
<path d="M255.9,247.5 Q258.1,253.0 255.9,258.5" fill="none" stroke="#7a7a7a" stroke-width="0.6" opacity="0.6"/>
<path d="M257.9,247.5 Q260.1,253.0 257.9,258.5" fill="none" stroke="#7a7a7a" stroke-width="0.6" opacity="0.6"/>
<ellipse cx="263.5" cy="253.0" rx="4.9" ry="6.0" fill="url(#face)" stroke="#9a9a9a" stroke-width="0.6"/>
<rect x="236.9" y="278.2" width="30.6" height="13.5" rx="6.8" fill="url(#rod)" stroke="#8a8a8a" stroke-width="0.5"/>
<path d="M242.3,279.1 Q244.7,285.0 242.3,290.9" fill="none" stroke="#7a7a7a" stroke-width="0.6" opacity="0.6"/>
<path d="M244.3,279.1 Q246.7,285.0 244.3,290.9" fill="none" stroke="#7a7a7a" stroke-width="0.6" opacity="0.6"/>
<path d="M246.3,279.1 Q248.7,285.0 246.3,290.9" fill="none" stroke="#7a7a7a" stroke-width="0.6" opacity="0.6"/>
<path d="M248.3,279.1 Q250.7,285.0 248.3,290.9" fill="none" stroke="#7a7a7a" stroke-width="0.6" opacity="0.6"/>
<path d="M250.3,279.1 Q252.7,285.0 250.3,290.9" fill="none" stroke="#7a7a7a" stroke-width="0.6" opacity="0.6"/>
<path d="M252.3,279.1 Q254.7,285.0 252.3,290.9" fill="none" stroke="#7a7a7a" stroke-width="0.6" opacity="0.6"/>
<path d="M254.3,279.1 Q256.7,285.0 254.3,290.9" fill="none" stroke="#7a7a7a" stroke-width="0.6" opacity="0.6"/>
<path d="M256.3,279.1 Q258.7,285.0 256.3,290.9" fill="none" stroke="#7a7a7a" stroke-width="0.6" opacity="0.6"/>
<ellipse cx="262.2" cy="285.0" rx="5.3" ry="6.5" fill="url(#face)" stroke="#9a9a9a" stroke-width="0.6"/>
<rect x="235.0" y="311.5" width="33.4" height="17.0" rx="8.5" fill="url(#rod)" stroke="#8a8a8a" stroke-width="0.5"/>
<path d="M241.8,312.3 Q244.8,320.0 241.8,327.7" fill="none" stroke="#7a7a7a" stroke-width="0.6" opacity="0.6"/>
<path d="M244.2,312.3 Q247.2,320.0 244.2,327.7" fill="none" stroke="#7a7a7a" stroke-width="0.6" opacity="0.6"/>
<path d="M246.6,312.3 Q249.6,320.0 246.6,327.7" fill="none" stroke="#7a7a7a" stroke-width="0.6" opacity="0.6"/>
<path d="M249.0,312.3 Q252.0,320.0 249.0,327.7" fill="none" stroke="#7a7a7a" stroke-width="0.6" opacity="0.6"/>
<path d="M251.4,312.3 Q254.4,320.0 251.4,327.7" fill="none" stroke="#7a7a7a" stroke-width="0.6" opacity="0.6"/>
<path d="M253.8,312.3 Q256.8,320.0 253.8,327.7" fill="none" stroke="#7a7a7a" stroke-width="0.6" opacity="0.6"/>
<path d="M256.2,312.3 Q259.2,320.0 256.2,327.7" fill="none" stroke="#7a7a7a" stroke-width="0.6" opacity="0.6"/>
<ellipse cx="261.8" cy="320.0" rx="6.6" ry="8.2" fill="url(#face)" stroke="#9a9a9a" stroke-width="0.6"/>
<rect x="233.3" y="348.5" width="34.2" height="17.0" rx="8.5" fill="url(#rod)" stroke="#8a8a8a" stroke-width="0.5"/>
<path d="M240.1,349.3 Q243.1,357.0 240.1,364.7" fill="none" stroke="#7a7a7a" stroke-width="0.6" opacity="0.6"/>
<path d="M242.5,349.3 Q245.5,357.0 242.5,364.7" fill="none" stroke="#7a7a7a" stroke-width="0.6" opacity="0.6"/>
<path d="M244.9,349.3 Q247.9,357.0 244.9,364.7" fill="none" stroke="#7a7a7a" stroke-width="0.6" opacity="0.6"/>
<path d="M247.3,349.3 Q250.3,357.0 247.3,364.7" fill="none" stroke="#7a7a7a" stroke-width="0.6" opacity="0.6"/>
<path d="M249.7,349.3 Q252.7,357.0 249.7,364.7" fill="none" stroke="#7a7a7a" stroke-width="0.6" opacity="0.6"/>
<path d="M252.1,349.3 Q255.1,357.0 252.1,364.7" fill="none" stroke="#7a7a7a" stroke-width="0.6" opacity="0.6"/>
<path d="M254.5,349.3 Q257.5,357.0 254.5,364.7" fill="none" stroke="#7a7a7a" stroke-width="0.6" opacity="0.6"/>
<ellipse cx="260.9" cy="357.0" rx="6.6" ry="8.2" fill="url(#face)" stroke="#9a9a9a" stroke-width="0.6"/>
<ellipse cx="237.7" cy="396.7" rx="8.0" ry="9.7" fill="#ebebeb" stroke="#404040" stroke-width="0.7"/>
<ellipse cx="240.7" cy="397.0" rx="8.0" ry="9.7" fill="#ebebeb" stroke="#404040" stroke-width="0.7"/>
<ellipse cx="243.7" cy="397.3" rx="8.0" ry="9.7" fill="#ebebeb" stroke="#404040" stroke-width="0.7"/>
<ellipse cx="246.7" cy="397.6" rx="8.0" ry="9.7" fill="#ebebeb" stroke="#404040" stroke-width="0.7"/>
<ellipse cx="249.6" cy="398.0" rx="8.0" ry="9.7" fill="#ebebeb" stroke="#404040" stroke-width="0.7"/>
<ellipse cx="252.6" cy="398.3" rx="8.0" ry="9.7" fill="#ebebeb" stroke="#404040" stroke-width="0.7"/>
<ellipse cx="255.6" cy="398.6" rx="8.0" ry="9.7" fill="#ebebeb" stroke="#404040" stroke-width="0.7"/>
<ellipse cx="258.6" cy="398.9" rx="8.0" ry="9.7" fill="url(#face)" stroke="#9c9c9c" stroke-width="0.9"/>
<ellipse cx="238.6" cy="440.8" rx="8.9" ry="10.8" fill="#ebebeb" stroke="#404040" stroke-width="0.7"/>
<ellipse cx="241.4" cy="441.1" rx="8.9" ry="10.8" fill="#ebebeb" stroke="#404040" stroke-width="0.7"/>
<ellipse cx="244.3" cy="441.5" rx="8.9" ry="10.8" fill="#ebebeb" stroke="#404040" stroke-width="0.7"/>
<ellipse cx="247.2" cy="441.8" rx="8.9" ry="10.8" fill="#ebebeb" stroke="#404040" stroke-width="0.7"/>
<ellipse cx="250.0" cy="442.2" rx="8.9" ry="10.8" fill="#ebebeb" stroke="#404040" stroke-width="0.7"/>
<ellipse cx="252.9" cy="442.5" rx="8.9" ry="10.8" fill="#ebebeb" stroke="#404040" stroke-width="0.7"/>
<ellipse cx="255.8" cy="442.9" rx="8.9" ry="10.8" fill="#ebebeb" stroke="#404040" stroke-width="0.7"/>
<ellipse cx="258.6" cy="443.2" rx="8.9" ry="10.8" fill="url(#face)" stroke="#9c9c9c" stroke-width="0.9"/>
<ellipse cx="235.6" cy="485.7" rx="9.6" ry="11.7" fill="#ebebeb" stroke="#404040" stroke-width="0.7"/>
<ellipse cx="238.7" cy="486.1" rx="9.6" ry="11.7" fill="#ebebeb" stroke="#404040" stroke-width="0.7"/>
<ellipse cx="241.7" cy="486.4" rx="9.6" ry="11.7" fill="#ebebeb" stroke="#404040" stroke-width="0.7"/>
<ellipse cx="244.8" cy="486.8" rx="9.6" ry="11.7" fill="#ebebeb" stroke="#404040" stroke-width="0.7"/>
<ellipse cx="247.8" cy="487.2" rx="9.6" ry="11.7" fill="#ebebeb" stroke="#404040" stroke-width="0.7"/>
<ellipse cx="250.9" cy="487.6" rx="9.6" ry="11.7" fill="#ebebeb" stroke="#404040" stroke-width="0.7"/>
<ellipse cx="253.9" cy="487.9" rx="9.6" ry="11.7" fill="#ebebeb" stroke="#404040" stroke-width="0.7"/>
<ellipse cx="257.0" cy="488.3" rx="9.6" ry="11.7" fill="url(#face)" stroke="#9c9c9c" stroke-width="0.9"/>
<ellipse cx="237.0" cy="534.1" rx="10.0" ry="12.2" fill="#ebebeb" stroke="#404040" stroke-width="0.7"/>
<ellipse cx="239.9" cy="534.5" rx="10.0" ry="12.2" fill="#ebebeb" stroke="#404040" stroke-width="0.7"/>
<ellipse cx="242.8" cy="534.9" rx="10.0" ry="12.2" fill="#ebebeb" stroke="#404040" stroke-width="0.7"/>
<ellipse cx="245.8" cy="535.3" rx="10.0" ry="12.2" fill="#ebebeb" stroke="#404040" stroke-width="0.7"/>
<ellipse cx="248.7" cy="535.7" rx="10.0" ry="12.2" fill="#ebebeb" stroke="#404040" stroke-width="0.7"/>
<ellipse cx="251.7" cy="536.1" rx="10.0" ry="12.2" fill="#ebebeb" stroke="#404040" stroke-width="0.7"/>
<ellipse cx="254.6" cy="536.5" rx="10.0" ry="12.2" fill="#ebebeb" stroke="#404040" stroke-width="0.7"/>
<ellipse cx="257.5" cy="536.9" rx="10.0" ry="12.2" fill="url(#face)" stroke="#9c9c9c" stroke-width="0.9"/>
<ellipse cx="236.5" cy="586.1" rx="11.3" ry="13.8" fill="#ebebeb" stroke="#404040" stroke-width="0.7"/>
<ellipse cx="240.1" cy="586.6" rx="11.3" ry="13.8" fill="#ebebeb" stroke="#404040" stroke-width="0.7"/>
<ellipse cx="243.7" cy="587.1" rx="11.3" ry="13.8" fill="#ebebeb" stroke="#404040" stroke-width="0.7"/>
<ellipse cx="247.2" cy="587.6" rx="11.3" ry="13.8" fill="#ebebeb" stroke="#404040" stroke-width="0.7"/>
<ellipse cx="250.8" cy="588.1" rx="11.3" ry="13.8" fill="#ebebeb" stroke="#404040" stroke-width="0.7"/>
<ellipse cx="254.4" cy="588.6" rx="11.3" ry="13.8" fill="#ebebeb" stroke="#404040" stroke-width="0.7"/>
<ellipse cx="258.0" cy="589.1" rx="11.3" ry="13.8" fill="url(#face)" stroke="#9c9c9c" stroke-width="0.9"/>
<ellipse cx="236.8" cy="636.9" rx="11.6" ry="14.2" fill="#ebebeb" stroke="#404040" stroke-width="0.7"/>
<ellipse cx="240.4" cy="637.4" rx="11.6" ry="14.2" fill="#ebebeb" stroke="#404040" stroke-width="0.7"/>
<ellipse cx="244.1" cy="638.0" rx="11.6" ry="14.2" fill="#ebebeb" stroke="#404040" stroke-width="0.7"/>
<ellipse cx="247.7" cy="638.5" rx="11.6" ry="14.2" fill="#ebebeb" stroke="#404040" stroke-width="0.7"/>
<ellipse cx="251.3" cy="639.0" rx="11.6" ry="14.2" fill="#ebebeb" stroke="#404040" stroke-width="0.7"/>
<ellipse cx="255.0" cy="639.6" rx="11.6" ry="14.2" fill="#ebebeb" stroke="#404040" stroke-width="0.7"/>
<ellipse cx="258.6" cy="640.1" rx="11.6" ry="14.2" fill="url(#face)" stroke="#9c9c9c" stroke-width="0.9"/>
<ellipse cx="234.5" cy="695.2" rx="12.9" ry="15.8" fill="#ebebeb" stroke="#404040" stroke-width="0.7"/>
<ellipse cx="238.3" cy="695.8" rx="12.9" ry="15.8" fill="#ebebeb" stroke="#404040" stroke-width="0.7"/>
<ellipse cx="242.1" cy="696.4" rx="12.9" ry="15.8" fill="#ebebeb" stroke="#404040" stroke-width="0.7"/>
<ellipse cx="245.9" cy="697.0" rx="12.9" ry="15.8" fill="#ebebeb" stroke="#404040" stroke-width="0.7"/>
<ellipse cx="249.7" cy="697.6" rx="12.9" ry="15.8" fill="#ebebeb" stroke="#404040" stroke-width="0.7"/>
<ellipse cx="253.5" cy="698.2" rx="12.9" ry="15.8" fill="#ebebeb" stroke="#404040" stroke-width="0.7"/>
<ellipse cx="257.3" cy="698.8" rx="12.9" ry="15.8" fill="url(#face)" stroke="#9c9c9c" stroke-width="0.9"/>
<ellipse cx="234.0" cy="755.2" rx="13.3" ry="16.2" fill="#ebebeb" stroke="#404040" stroke-width="0.7"/>
<ellipse cx="237.8" cy="755.8" rx="13.3" ry="16.2" fill="#ebebeb" stroke="#404040" stroke-width="0.7"/>
<ellipse cx="241.6" cy="756.4" rx="13.3" ry="16.2" fill="#ebebeb" stroke="#404040" stroke-width="0.7"/>
<ellipse cx="245.4" cy="757.0" rx="13.3" ry="16.2" fill="#ebebeb" stroke="#404040" stroke-width="0.7"/>
<ellipse cx="249.3" cy="757.6" rx="13.3" ry="16.2" fill="#ebebeb" stroke="#404040" stroke-width="0.7"/>
<ellipse cx="253.1" cy="758.2" rx="13.3" ry="16.2" fill="#ebebeb" stroke="#404040" stroke-width="0.7"/>
<ellipse cx="256.9" cy="758.8" rx="13.3" ry="16.2" fill="url(#face)" stroke="#9c9c9c" stroke-width="0.9"/>
<ellipse cx="224.5" cy="819.9" rx="20.9" ry="25.5" fill="#ebebeb" stroke="#404040" stroke-width="0.7"/>
<ellipse cx="227.9" cy="820.7" rx="20.9" ry="25.5" fill="#ebebeb" stroke="#404040" stroke-width="0.7"/>
<ellipse cx="231.3" cy="821.5" rx="20.9" ry="25.5" fill="#ebebeb" stroke="#404040" stroke-width="0.7"/>
<ellipse cx="234.7" cy="822.3" rx="20.9" ry="25.5" fill="#ebebeb" stroke="#404040" stroke-width="0.7"/>
<ellipse cx="238.2" cy="823.1" rx="20.9" ry="25.5" fill="#ebebeb" stroke="#404040" stroke-width="0.7"/>
<ellipse cx="241.6" cy="823.9" rx="20.9" ry="25.5" fill="#ebebeb" stroke="#404040" stroke-width="0.7"/>
<ellipse cx="245.0" cy="824.7" rx="20.9" ry="25.5" fill="#ebebeb" stroke="#404040" stroke-width="0.7"/>
<ellipse cx="248.4" cy="825.5" rx="20.9" ry="25.5" fill="url(#face)" stroke="#9c9c9c" stroke-width="0.9"/>
<ellipse cx="236.3" cy="893.7" rx="17.3" ry="21.1" fill="#ebebeb" stroke="#404040" stroke-width="0.7"/>
<ellipse cx="239.9" cy="894.4" rx="17.3" ry="21.1" fill="#ebebeb" stroke="#404040" stroke-width="0.7"/>
<ellipse cx="243.6" cy="895.2" rx="17.3" ry="21.1" fill="#ebebeb" stroke="#404040" stroke-width="0.7"/>
<ellipse cx="247.3" cy="896.0" rx="17.3" ry="21.1" fill="#ebebeb" stroke="#404040" stroke-width="0.7"/>
<ellipse cx="251.0" cy="896.8" rx="17.3" ry="21.1" fill="#ebebeb" stroke="#404040" stroke-width="0.7"/>
<ellipse cx="254.7" cy="897.6" rx="17.3" ry="21.1" fill="#ebebeb" stroke="#404040" stroke-width="0.7"/>
<ellipse cx="258.3" cy="898.3" rx="17.3" ry="21.1" fill="url(#face)" stroke="#9c9c9c" stroke-width="0.9"/>
<text x="198.5" y="182.0" textLength="21.0" lengthAdjust="spacingAndGlyphs" font-family="Liberation Mono" font-weight="bold" font-size="10" fill="#fff0ea" stroke="#fff0ea" stroke-width="0.35">&#248;14.0</text>
<text x="195.5" y="231.2" textLength="24.0" lengthAdjust="spacingAndGlyphs" font-family="Liberation Mono" font-weight="bold" font-size="10" fill="#fff0ea" stroke="#fff0ea" stroke-width="0.35">1/2 in</text>
<text x="197.5" y="279.6" textLength="23.0" lengthAdjust="spacingAndGlyphs" font-family="Liberation Mono" font-weight="bold" font-size="10" fill="#fff0ea" stroke="#fff0ea" stroke-width="0.35">&#248;12.0</text>
<text x="197.5" y="322.0" textLength="22.5" lengthAdjust="spacingAndGlyphs" font-family="Liberation Mono" font-weight="bold" font-size="10" fill="#fff0ea" stroke="#fff0ea" stroke-width="0.35">&#248;10.0</text>
<text x="197.0" y="363.3" textLength="23.0" lengthAdjust="spacingAndGlyphs" font-family="Liberation Mono" font-weight="bold" font-size="10" fill="#fff0ea" stroke="#fff0ea" stroke-width="0.35">3/8 in</text>
<text x="198.8" y="397.4" textLength="19.2" lengthAdjust="spacingAndGlyphs" font-family="Liberation Mono" font-weight="bold" font-size="10" fill="#fff0ea" stroke="#fff0ea" stroke-width="0.35">&#248;8.0</text>
<text x="195.5" y="432.6" textLength="27.0" lengthAdjust="spacingAndGlyphs" font-family="Liberation Mono" font-weight="bold" font-size="10" fill="#fff0ea" stroke="#fff0ea" stroke-width="0.35">5/16 in</text>
<text x="197.5" y="463.1" textLength="22.0" lengthAdjust="spacingAndGlyphs" font-family="Liberation Mono" font-weight="bold" font-size="10" fill="#fff0ea" stroke="#fff0ea" stroke-width="0.35">1/4 in</text>
<text x="198.8" y="490.5" textLength="19.2" lengthAdjust="spacingAndGlyphs" font-family="Liberation Mono" font-weight="bold" font-size="10" fill="#fff0ea" stroke="#fff0ea" stroke-width="0.35">&#248;6.0</text>
<text x="196.3" y="516.1" textLength="26.2" lengthAdjust="spacingAndGlyphs" font-family="Liberation Mono" font-weight="bold" font-size="10" fill="#fff0ea" stroke="#fff0ea" stroke-width="0.35">1/32 in</text>
<text x="195.5" y="539.2" textLength="27.0" lengthAdjust="spacingAndGlyphs" font-family="Liberation Mono" font-weight="bold" font-size="10" fill="#fff0ea" stroke="#fff0ea" stroke-width="0.35">3/18 in</text>
<text x="199.4" y="561.1" textLength="18.0" lengthAdjust="spacingAndGlyphs" font-family="Liberation Mono" font-weight="bold" font-size="10" fill="#fff0ea" stroke="#fff0ea" stroke-width="0.35">&#248;4.0</text>
<text x="195.5" y="583.0" textLength="27.0" lengthAdjust="spacingAndGlyphs" font-family="Liberation Mono" font-weight="bold" font-size="10" fill="#fff0ea" stroke="#fff0ea" stroke-width="0.35">5/58 in</text>
<text x="194.3" y="603.0" textLength="27.5" lengthAdjust="spacingAndGlyphs" font-family="Liberation Mono" font-weight="bold" font-size="10" fill="#fff0ea" stroke="#fff0ea" stroke-width="0.35">9/64 in</text>
<text x="196.8" y="623.3" textLength="22.5" lengthAdjust="spacingAndGlyphs" font-family="Liberation Mono" font-weight="bold" font-size="10" fill="#fff0ea" stroke="#fff0ea" stroke-width="0.35">1/8 in</text>
<text x="195.0" y="641.4" textLength="27.5" lengthAdjust="spacingAndGlyphs" font-family="Liberation Mono" font-weight="bold" font-size="10" fill="#fff0ea" stroke="#fff0ea" stroke-width="0.35">7/64 in</text>
<text x="195.0" y="657.0" textLength="27.5" lengthAdjust="spacingAndGlyphs" font-family="Liberation Mono" font-weight="bold" font-size="10" fill="#fff0ea" stroke="#fff0ea" stroke-width="0.35">3/52 in</text>
<text x="195.5" y="671.7" textLength="27.0" lengthAdjust="spacingAndGlyphs" font-family="Liberation Mono" font-weight="bold" font-size="10" fill="#fff0ea" stroke="#fff0ea" stroke-width="0.35">5/64 in</text>
<text x="195.5" y="685.5" textLength="27.0" lengthAdjust="spacingAndGlyphs" font-family="Liberation Mono" font-weight="bold" font-size="10" fill="#fff0ea" stroke="#fff0ea" stroke-width="0.35">1/16 in</text>
<text x="134.9" y="122.6" textLength="19.0" lengthAdjust="spacingAndGlyphs" font-family="Liberation Mono" font-weight="bold" font-size="7.5" fill="#fff0ea" stroke="#fff0ea" stroke-width="0.35">METRIC</text>
<text x="135.8" y="155.7" textLength="21.6" lengthAdjust="spacingAndGlyphs" font-family="Liberation Mono" font-weight="bold" font-size="9.5" fill="#fff0ea" stroke="#fff0ea" stroke-width="0.35">M2X0.4</text>
<text x="135.0" y="174.6" textLength="30.0" lengthAdjust="spacingAndGlyphs" font-family="Liberation Mono" font-weight="bold" font-size="9.5" fill="#fff0ea" stroke="#fff0ea" stroke-width="0.35">M2.5X0.45</text>
<text x="138.0" y="198.0" textLength="22.0" lengthAdjust="spacingAndGlyphs" font-family="Liberation Mono" font-weight="bold" font-size="9.5" fill="#fff0ea" stroke="#fff0ea" stroke-width="0.35">M3X0.5</text>
<text x="138.0" y="223.2" textLength="22.0" lengthAdjust="spacingAndGlyphs" font-family="Liberation Mono" font-weight="bold" font-size="9.5" fill="#fff0ea" stroke="#fff0ea" stroke-width="0.35">M4X0.7</text>
<text x="132.3" y="247.4" textLength="25.0" lengthAdjust="spacingAndGlyphs" font-family="Liberation Mono" font-weight="bold" font-size="9.5" fill="#fff0ea" stroke="#fff0ea" stroke-width="0.35">M5X0.8</text>
<text x="132.3" y="271.8" textLength="25.0" lengthAdjust="spacingAndGlyphs" font-family="Liberation Mono" font-weight="bold" font-size="9.5" fill="#fff0ea" stroke="#fff0ea" stroke-width="0.35">M6X1.0</text>
<text x="132.5" y="302.9" textLength="24.0" lengthAdjust="spacingAndGlyphs" font-family="Liberation Mono" font-weight="bold" font-size="9.5" fill="#fff0ea" stroke="#fff0ea" stroke-width="0.35">M7X1.0</text>
<text x="132.5" y="341.9" textLength="24.0" lengthAdjust="spacingAndGlyphs" font-family="Liberation Mono" font-weight="bold" font-size="9.5" fill="#fff0ea" stroke="#fff0ea" stroke-width="0.35">M8X1.0</text>
<text x="135.0" y="371.9" textLength="26.0" lengthAdjust="spacingAndGlyphs" font-family="Liberation Mono" font-weight="bold" font-size="9.5" fill="#fff0ea" stroke="#fff0ea" stroke-width="0.35">M8X1.25</text>
<text x="136.5" y="418.4" textLength="27.0" lengthAdjust="spacingAndGlyphs" font-family="Liberation Mono" font-weight="bold" font-size="9.5" fill="#fff0ea" stroke="#fff0ea" stroke-width="0.35">M10X1.0</text>
<text x="135.5" y="461.9" textLength="29.0" lengthAdjust="spacingAndGlyphs" font-family="Liberation Mono" font-weight="bold" font-size="9.5" fill="#fff0ea" stroke="#fff0ea" stroke-width="0.35">M10X1.35</text>
<text x="136.5" y="507.4" textLength="27.0" lengthAdjust="spacingAndGlyphs" font-family="Liberation Mono" font-weight="bold" font-size="9.5" fill="#fff0ea" stroke="#fff0ea" stroke-width="0.35">M10X1.5</text>
<text x="135.5" y="559.9" textLength="29.0" lengthAdjust="spacingAndGlyphs" font-family="Liberation Mono" font-weight="bold" font-size="9.5" fill="#fff0ea" stroke="#fff0ea" stroke-width="0.35">M12X1.25</text>
<text x="136.5" y="610.9" textLength="27.0" lengthAdjust="spacingAndGlyphs" font-family="Liberation Mono" font-weight="bold" font-size="9.5" fill="#fff0ea" stroke="#fff0ea" stroke-width="0.35">M12X1.5</text>
<text x="136.0" y="666.4" textLength="32.0" lengthAdjust="spacingAndGlyphs" font-family="Liberation Mono" font-weight="bold" font-size="9.5" fill="#fff0ea" stroke="#fff0ea" stroke-width="0.35">M12X1.75</text>
<text x="137.0" y="727.8" textLength="30.0" lengthAdjust="spacingAndGlyphs" font-family="Liberation Mono" font-weight="bold" font-size="9.5" fill="#fff0ea" stroke="#fff0ea" stroke-width="0.35">M14X1.5</text>
<text x="137.0" y="786.4" textLength="30.0" lengthAdjust="spacingAndGlyphs" font-family="Liberation Mono" font-weight="bold" font-size="9.5" fill="#fff0ea" stroke="#fff0ea" stroke-width="0.35">M14X2.0</text>
<text x="132.5" y="859.0" textLength="42.0" lengthAdjust="spacingAndGlyphs" font-family="Liberation Mono" font-weight="bold" font-size="9.5" fill="#fff0ea" stroke="#fff0ea" stroke-width="0.35">5/8-18 Fine</text>
<text x="138.0" y="936.4" textLength="49.0" lengthAdjust="spacingAndGlyphs" font-family="Liberation Mono" font-weight="bold" font-size="9.5" fill="#fff0ea" stroke="#fff0ea" stroke-width="0.35">3/4-10 Coarse</text>
<text x="258.4" y="127.1" textLength="21.5" lengthAdjust="spacingAndGlyphs" font-family="Liberation Mono" font-weight="bold" font-size="7.5" fill="#fff0ea" stroke="#fff0ea" stroke-width="0.35">STANDARD</text>
<text x="254.0" y="157.5" textLength="34.0" lengthAdjust="spacingAndGlyphs" font-family="Liberation Mono" font-weight="bold" font-size="9.5" fill="#fff0ea" stroke="#fff0ea" stroke-width="0.35">4-40 Coarse</text>
<text x="268.4" y="174.6" textLength="20.6" lengthAdjust="spacingAndGlyphs" font-family="Liberation Mono" font-weight="bold" font-size="9.5" fill="#fff0ea" stroke="#fff0ea" stroke-width="0.35">Coarse</text>
<text x="271.0" y="199.8" textLength="15.4" lengthAdjust="spacingAndGlyphs" font-family="Liberation Mono" font-weight="bold" font-size="9.5" fill="#fff0ea" stroke="#fff0ea" stroke-width="0.35">Fine</text>
<text x="250.4" y="222.3" textLength="40.5" lengthAdjust="spacingAndGlyphs" font-family="Liberation Mono" font-weight="bold" font-size="9.5" fill="#fff0ea" stroke="#fff0ea" stroke-width="0.35">6-32 Coarse</text>
<text x="248.6" y="248.4" textLength="41.4" lengthAdjust="spacingAndGlyphs" font-family="Liberation Mono" font-weight="bold" font-size="9.5" fill="#fff0ea" stroke="#fff0ea" stroke-width="0.35">8-32 Coarse</text>
<text x="247.7" y="272.7" textLength="44.0" lengthAdjust="spacingAndGlyphs" font-family="Liberation Mono" font-weight="bold" font-size="9.5" fill="#fff0ea" stroke="#fff0ea" stroke-width="0.35">10-24 Coarse</text>
<text x="250.4" y="301.3" textLength="37.8" lengthAdjust="spacingAndGlyphs" font-family="Liberation Mono" font-weight="bold" font-size="9.5" fill="#fff0ea" stroke="#fff0ea" stroke-width="0.35">10-22 Fine</text>
<text x="244.0" y="339.1" textLength="47.8" lengthAdjust="spacingAndGlyphs" font-family="Liberation Mono" font-weight="bold" font-size="9.5" fill="#fff0ea" stroke="#fff0ea" stroke-width="0.35">1/4-20 Coarse</text>
<text x="248.6" y="370.6" textLength="40.4" lengthAdjust="spacingAndGlyphs" font-family="Liberation Mono" font-weight="bold" font-size="9.5" fill="#fff0ea" stroke="#fff0ea" stroke-width="0.35">1/4-28 Fine</text>
<text x="240.5" y="415.6" textLength="51.3" lengthAdjust="spacingAndGlyphs" font-family="Liberation Mono" font-weight="bold" font-size="9.5" fill="#fff0ea" stroke="#fff0ea" stroke-width="0.35">5/16-18 Coarse</text>
<text x="252.0" y="458.7" textLength="38.0" lengthAdjust="spacingAndGlyphs" font-family="Liberation Mono" font-weight="bold" font-size="9.5" fill="#fff0ea" stroke="#fff0ea" stroke-width="0.35">5/16-24 Fine</text>
<text x="243.0" y="502.8" textLength="48.0" lengthAdjust="spacingAndGlyphs" font-family="Liberation Mono" font-weight="bold" font-size="9.5" fill="#fff0ea" stroke="#fff0ea" stroke-width="0.35">3/8-16 Coarse</text>
<text x="243.0" y="554.1" textLength="40.7" lengthAdjust="spacingAndGlyphs" font-family="Liberation Mono" font-weight="bold" font-size="9.5" fill="#fff0ea" stroke="#fff0ea" stroke-width="0.35">3/8-24 Fine</text>
<text x="238.7" y="604.4" textLength="50.3" lengthAdjust="spacingAndGlyphs" font-family="Liberation Mono" font-weight="bold" font-size="9.5" fill="#fff0ea" stroke="#fff0ea" stroke-width="0.35">7/16-14 Coarse</text>
<text x="235.0" y="658.4" textLength="55.0" lengthAdjust="spacingAndGlyphs" font-family="Liberation Mono" font-weight="bold" font-size="9.5" fill="#fff0ea" stroke="#fff0ea" stroke-width="0.35">7/16-20 Fine</text>
<text x="240.0" y="717.4" textLength="50.0" lengthAdjust="spacingAndGlyphs" font-family="Liberation Mono" font-weight="bold" font-size="9.5" fill="#fff0ea" stroke="#fff0ea" stroke-width="0.35">1/2-13 Coarse</text>
<text x="245.0" y="773.4" textLength="45.0" lengthAdjust="spacingAndGlyphs" font-family="Liberation Mono" font-weight="bold" font-size="9.5" fill="#fff0ea" stroke="#fff0ea" stroke-width="0.35">1/2-20 Fine</text>
<text x="259.4" y="847.3" textLength="14.4" lengthAdjust="spacingAndGlyphs" font-family="Liberation Mono" font-weight="bold" font-size="9.5" fill="#fff0ea" stroke="#fff0ea" stroke-width="0.35">Fine</text>
<text x="236.9" y="921.1" textLength="46.8" lengthAdjust="spacingAndGlyphs" font-family="Liberation Mono" font-weight="bold" font-size="9.5" fill="#fff0ea" stroke="#fff0ea" stroke-width="0.35">5/8-11 Coarse</text>
</svg>
<svg class="abs" style="left:0;top:0" width="800" height="1000">
<line x1="54.5" y1="127.5" x2="54.5" y2="950" stroke="#1a1a1a" stroke-width="5" stroke-dasharray="8.9 3" opacity="0.5"/>
<line x1="54.5" y1="127.5" x2="54.5" y2="950" stroke="#ffffff" stroke-width="3" stroke-dasharray="8.9 3"/>
<circle cx="54.4" cy="118" r="6.6" fill="#e4692f" stroke="#2a1a10" stroke-width="0.8"/>
<circle cx="54.4" cy="956" r="6.6" fill="#e4692f" stroke="#2a1a10" stroke-width="0.8"/>
<line x1="108" y1="967" x2="304" y2="937" stroke="#ffffff" stroke-width="3" stroke-dasharray="9.5 3"/>
<circle cx="101" cy="968" r="6.6" fill="#e4692f" stroke="#2a1a10" stroke-width="0.8"/>
<circle cx="311.5" cy="936" r="6.6" fill="#e4692f" stroke="#2a1a10" stroke-width="0.8"/>
<text x="0" y="0" transform="translate(33,534.5) rotate(90)" text-anchor="middle" dominant-baseline="central" font-family="Liberation Sans" font-size="25.5" fill="#ffffff" stroke="#ffffff" stroke-width="0.5">29 cm / 11.42 in</text>
<text x="0" y="0" transform="translate(199.7,972.3) rotate(-8.66)" text-anchor="middle" dominant-baseline="central" font-family="Liberation Sans" font-size="25.3" fill="#ffffff" stroke="#ffffff" stroke-width="0.5">8 cm / 3.15 in</text>
</svg>
</body></html>
